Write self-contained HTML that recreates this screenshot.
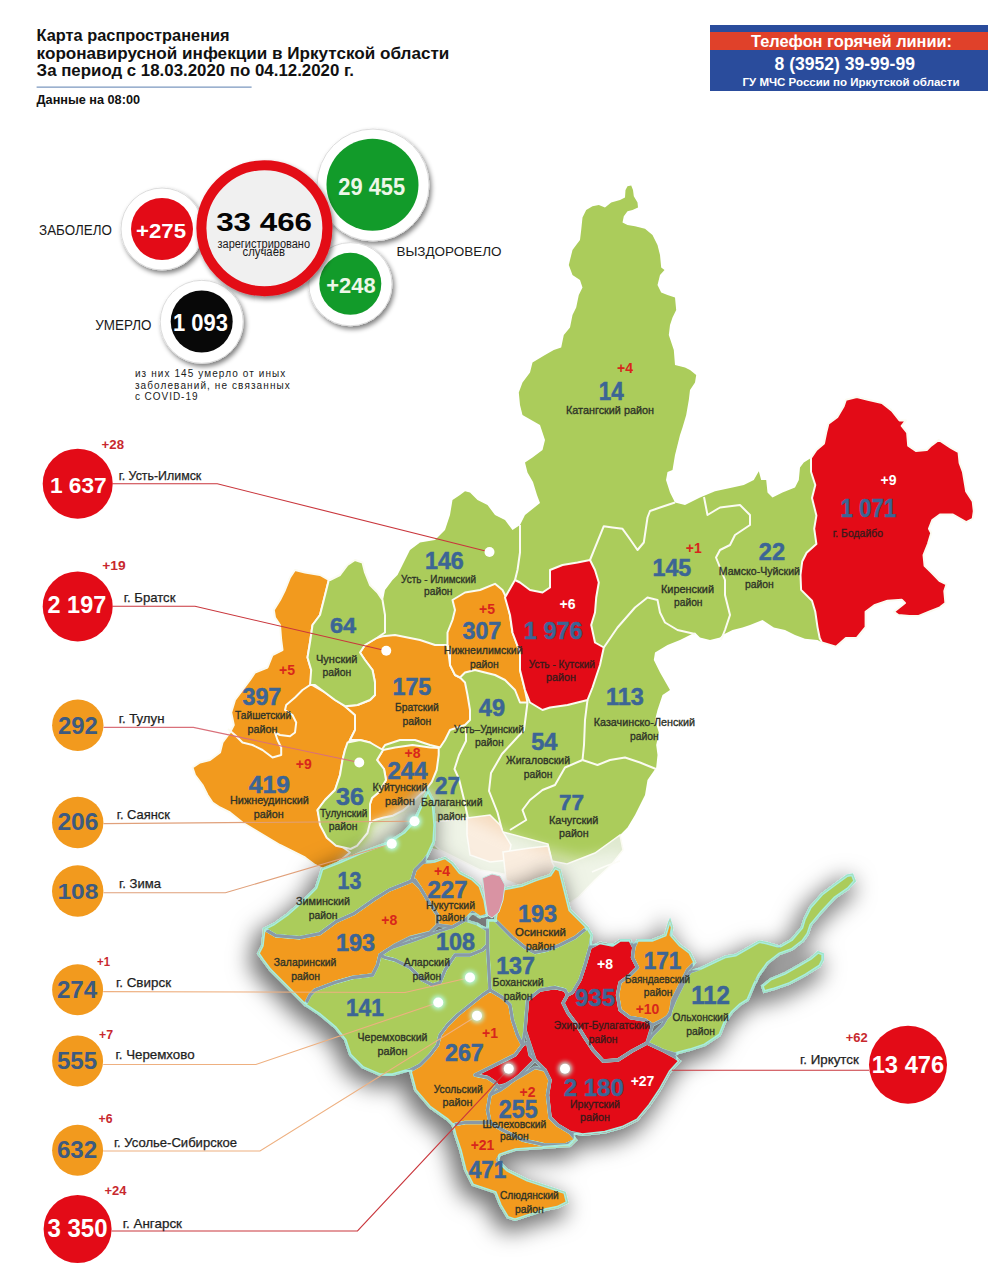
<!DOCTYPE html><html><head><meta charset="utf-8"><style>
html,body{margin:0;padding:0;background:#fff;width:1004px;height:1280px;overflow:hidden}
svg{display:block;font-family:"Liberation Sans",sans-serif}
</style></head><body>
<svg width="1004" height="1280" viewBox="0 0 1004 1280">
<defs>
<filter id="sh" x="-20%" y="-20%" width="140%" height="140%"><feMorphology in="SourceAlpha" operator="dilate" radius="2" result="d"/><feGaussianBlur in="d" stdDeviation="7" result="b"/><feOffset in="b" dx="2" dy="-5" result="gb"/><feFlood flood-color="#fff" flood-opacity="0.9"/><feComposite in2="gb" operator="in" result="glow"/><feMorphology in="SourceAlpha" operator="dilate" radius="3" result="d2"/><feGaussianBlur in="d2" stdDeviation="11" result="b2"/><feOffset in="b2" dx="-5" dy="8" result="ob"/><feFlood flood-color="#000" flood-opacity="0.55"/><feComposite in2="ob" operator="in" result="shadow"/><feMerge><feMergeNode in="shadow"/><feMergeNode in="SourceGraphic"/></feMerge></filter>
<filter id="csh" x="-30%" y="-30%" width="160%" height="160%"><feGaussianBlur in="SourceAlpha" stdDeviation="2.5"/><feOffset dx="1.5" dy="2.5"/><feComponentTransfer><feFuncA type="linear" slope="0.5"/></feComponentTransfer><feMerge><feMergeNode/><feMergeNode in="SourceGraphic"/></feMerge></filter>
<filter id="blur12"><feGaussianBlur stdDeviation="12"/></filter><filter id="blur5" x="-30%" y="-50%" width="160%" height="200%"><feGaussianBlur stdDeviation="5"/></filter><filter id="blur6" x="-20%" y="-50%" width="140%" height="200%"><feGaussianBlur stdDeviation="7"/></filter>
<filter id="er" x="0" y="0" width="1004" height="1280" filterUnits="userSpaceOnUse"><feMorphology operator="dilate" radius="3"/><feMorphology operator="erode" radius="5.2"/></filter><filter id="cl" x="0" y="0" width="1004" height="1280" filterUnits="userSpaceOnUse"><feMorphology operator="dilate" radius="3"/><feMorphology operator="erode" radius="3"/></filter>
<filter id="glow" x="-100%" y="-100%" width="300%" height="300%"><feGaussianBlur stdDeviation="2"/></filter>

<mask id="mIn" maskUnits="userSpaceOnUse" x="0" y="0" width="1004" height="1280"><g fill="#fff" filter="url(#cl)"><polygon points="264.0,928.7 273.9,923.7 287.8,913.8 303.8,899.8 315.7,887.9 319.7,875.9 321.7,869.0 339.6,862.0 360.0,853.0 387.0,843.0 404.0,832.0 414.0,821.0 420.0,808.0 425.0,796.0 428.0,790.0 433.0,800.0 435.0,825.0 434.0,842.0 428.0,855.0 422.5,862.5 415.0,870.0 412.0,880.0 409.4,881.9 389.4,889.9 373.5,899.8 353.6,913.8 335.7,921.8 319.7,933.7 299.8,937.7 275.9,935.7 264.0,928.7"/><polygon points="258.0,953.6 262.0,945.7 264.0,928.7 275.9,935.7 299.8,937.7 319.7,933.7 335.7,921.8 353.6,913.8 373.5,899.8 389.4,889.9 409.4,881.9 415.0,880.0 420.0,887.5 427.5,900.0 432.5,907.5 437.5,915.0 437.5,925.0 430.0,932.5 410.0,937.5 395.0,945.0 387.5,950.0 380.0,955.0 377.5,965.0 372.5,975.0 352.5,977.5 335.0,982.5 315.0,990.0 310.0,995.0 305.0,1005.0 300.0,1000.0 290.0,990.0 280.0,980.0 270.0,970.0 262.5,960.0"/><polygon points="412.0,880.0 415.0,870.0 422.5,862.5 435.0,861.0 445.0,857.5 452.5,863.0 460.0,872.5 472.5,879.0 480.0,886.0 485.0,900.0 487.5,915.0 480.0,917.5 472.5,912.5 465.0,920.0 452.5,927.0 437.5,925.0 437.5,915.0 432.5,907.5 427.5,900.0 420.0,887.5"/><polygon points="392.5,947.5 415.0,940.0 435.0,932.5 452.5,927.0 465.0,920.0 477.5,924.0 487.5,930.0 487.5,945.0 482.5,950.0 470.0,955.0 455.0,955.0 445.0,970.0 440.0,982.5 432.5,985.0 422.5,980.0 410.0,967.5 395.0,960.0 385.0,957.5 380.0,955.0 387.5,950.0"/><polygon points="305.0,1005.0 310.0,995.0 315.0,990.0 335.0,982.5 352.5,977.5 372.5,975.0 377.5,965.0 380.0,955.0 385.0,957.5 395.0,960.0 410.0,967.5 422.5,980.0 432.5,985.0 440.0,982.5 445.0,970.0 455.0,955.0 470.0,955.0 482.5,950.0 487.5,945.0 490.0,990.0 482.5,995.0 470.0,1005.0 457.5,1015.0 447.5,1025.0 440.0,1035.0 437.5,1045.0 430.0,1055.0 420.0,1065.0 410.0,1070.0 392.5,1075.0 380.0,1075.0 362.5,1067.5 350.0,1055.0 345.0,1040.0 335.0,1027.5 320.0,1015.0"/><polygon points="410.0,1071.0 420.0,1065.0 430.0,1055.0 437.5,1045.0 440.0,1035.0 447.5,1025.0 457.5,1015.0 470.0,1005.0 482.5,995.0 490.0,990.0 502.5,997.5 510.0,1005.0 512.5,1020.0 517.5,1035.0 522.5,1045.0 515.0,1055.0 500.0,1062.5 485.0,1070.0 475.0,1075.0 487.5,1077.5 495.0,1082.5 500.0,1090.0 490.0,1095.0 487.5,1110.0 490.0,1122.5 465.0,1122.5 452.5,1125.0 447.5,1120.0 430.0,1107.5 415.0,1090.0"/><polygon points="475.0,1075.0 485.0,1070.0 500.0,1062.5 515.0,1055.0 522.5,1045.0 527.5,1042.5 530.0,1055.0 535.0,1060.0 520.0,1075.0 507.5,1085.0 500.0,1090.0 495.0,1082.5 487.5,1077.5"/><polygon points="490.0,1095.0 495.0,1087.5 505.0,1085.0 522.5,1075.0 535.0,1067.5 545.0,1070.0 550.0,1080.0 547.5,1095.0 550.0,1117.5 557.5,1125.0 570.0,1132.5 576.2,1140.0 565.0,1145.0 545.0,1145.0 522.5,1140.0 502.5,1130.0 490.0,1122.5 487.5,1110.0"/><polygon points="452.5,1125.0 465.0,1122.5 490.0,1122.5 502.5,1130.0 522.5,1140.0 545.0,1145.0 565.0,1145.0 576.2,1140.0 570.0,1146.0 550.0,1147.5 515.0,1150.0 500.0,1155.0 497.5,1160.0 507.5,1170.0 527.5,1180.0 550.0,1187.5 565.0,1192.5 567.5,1202.5 557.5,1207.5 545.0,1210.0 530.0,1215.0 515.0,1220.0 507.5,1217.5 500.0,1205.0 495.0,1192.5 472.5,1185.0 465.0,1170.0 460.0,1150.0 455.0,1135.0"/><polygon points="527.5,1000.0 540.0,990.0 555.0,987.5 565.0,990.0 567.5,995.0 563.0,1003.0 568.0,1013.0 577.0,1025.0 585.0,1038.0 593.0,1050.0 603.0,1061.0 618.0,1060.0 632.0,1051.0 647.0,1043.0 662.0,1050.0 675.0,1057.0 680.0,1061.0 670.0,1072.0 660.0,1090.0 650.0,1105.0 637.5,1120.0 622.5,1127.5 605.0,1132.5 582.5,1135.0 570.0,1132.5 557.5,1125.0 550.0,1117.5 547.5,1095.0 550.0,1080.0 545.0,1070.0 535.0,1060.0 530.0,1045.0 525.0,1030.0 526.2,1015.0"/><polygon points="590.0,947.5 600.0,942.5 612.5,945.0 620.0,940.0 630.0,940.0 633.8,947.5 632.5,957.5 637.5,967.5 630.0,975.0 620.0,982.5 617.5,995.0 620.0,1010.0 630.0,1017.5 645.0,1020.0 652.5,1025.0 647.0,1043.0 632.0,1051.0 618.0,1060.0 603.0,1061.0 593.0,1050.0 585.0,1038.0 577.0,1025.0 568.0,1013.0 563.0,1003.0 567.5,995.0 572.5,992.5 580.0,980.0 585.0,965.0"/><polygon points="633.8,947.5 637.5,940.0 652.5,940.0 665.0,935.0 668.8,922.5 670.0,920.0 672.5,927.5 671.2,935.0 680.0,945.0 690.0,952.5 695.0,962.5 687.5,970.0 680.0,985.0 672.5,1000.0 670.0,1015.0 662.5,1020.0 652.5,1025.0 645.0,1020.0 630.0,1017.5 620.0,1010.0 617.5,995.0 620.0,982.5 630.0,975.0 637.5,967.5 632.5,957.5"/><polygon points="647.0,1043.0 652.5,1035.0 662.5,1025.0 670.0,1012.5 675.0,1000.0 682.5,985.0 690.0,972.0 700.0,968.4 725.4,956.5 735.6,954.8 759.3,941.3 767.7,943.0 779.6,946.4 791.4,939.6 801.6,927.7 804.1,919.3 810.0,907.4 821.9,893.9 835.5,883.7 847.3,875.2 852.4,874.4 855.0,881.0 848.0,889.0 835.0,898.0 821.0,913.0 811.0,925.0 808.0,934.0 803.0,941.0 792.0,949.5 779.6,954.0 767.7,963.3 759.3,975.1 754.2,985.3 748.0,1000.0 740.0,1005.0 732.5,1012.0 725.0,1022.5 720.0,1035.0 705.0,1045.0 690.0,1050.0 675.0,1054.0 662.0,1050.0"/><polygon points="762.0,986.0 770.5,979.0 784.0,973.5 799.0,965.0 811.0,958.0 818.0,952.0 823.0,954.0 823.0,960.0 820.0,966.0 806.0,975.0 790.0,983.5 773.0,989.5 764.0,992.0"/><polygon points="487.5,920.0 495.0,920.0 502.5,927.5 512.5,937.5 525.0,947.5 535.0,952.5 547.5,950.0 560.0,945.0 575.0,937.5 587.5,927.5 592.0,935.0 590.0,947.5 585.0,965.0 580.0,980.0 572.5,992.5 567.5,995.0 565.0,990.0 555.0,987.5 540.0,990.0 527.5,1000.0 526.2,1015.0 525.0,1030.0 522.5,1045.0 517.5,1035.0 512.5,1020.0 510.0,1005.0 502.5,997.5 490.0,990.0 487.5,945.0 487.5,930.0"/><polygon points="497.5,890.0 522.5,885.0 535.0,880.0 550.0,875.0 555.0,867.5 560.0,870.0 565.0,890.0 570.0,910.0 580.0,920.0 587.5,927.5 575.0,937.5 560.0,945.0 547.5,950.0 535.0,952.5 525.0,947.5 512.5,937.5 502.5,927.5 495.0,920.0 497.5,905.0"/></g></mask>
<mask id="mEr" maskUnits="userSpaceOnUse" x="0" y="0" width="1004" height="1280"><g fill="#fff" filter="url(#er)"><polygon points="264.0,928.7 273.9,923.7 287.8,913.8 303.8,899.8 315.7,887.9 319.7,875.9 321.7,869.0 339.6,862.0 360.0,853.0 387.0,843.0 404.0,832.0 414.0,821.0 420.0,808.0 425.0,796.0 428.0,790.0 433.0,800.0 435.0,825.0 434.0,842.0 428.0,855.0 422.5,862.5 415.0,870.0 412.0,880.0 409.4,881.9 389.4,889.9 373.5,899.8 353.6,913.8 335.7,921.8 319.7,933.7 299.8,937.7 275.9,935.7 264.0,928.7"/><polygon points="258.0,953.6 262.0,945.7 264.0,928.7 275.9,935.7 299.8,937.7 319.7,933.7 335.7,921.8 353.6,913.8 373.5,899.8 389.4,889.9 409.4,881.9 415.0,880.0 420.0,887.5 427.5,900.0 432.5,907.5 437.5,915.0 437.5,925.0 430.0,932.5 410.0,937.5 395.0,945.0 387.5,950.0 380.0,955.0 377.5,965.0 372.5,975.0 352.5,977.5 335.0,982.5 315.0,990.0 310.0,995.0 305.0,1005.0 300.0,1000.0 290.0,990.0 280.0,980.0 270.0,970.0 262.5,960.0"/><polygon points="412.0,880.0 415.0,870.0 422.5,862.5 435.0,861.0 445.0,857.5 452.5,863.0 460.0,872.5 472.5,879.0 480.0,886.0 485.0,900.0 487.5,915.0 480.0,917.5 472.5,912.5 465.0,920.0 452.5,927.0 437.5,925.0 437.5,915.0 432.5,907.5 427.5,900.0 420.0,887.5"/><polygon points="392.5,947.5 415.0,940.0 435.0,932.5 452.5,927.0 465.0,920.0 477.5,924.0 487.5,930.0 487.5,945.0 482.5,950.0 470.0,955.0 455.0,955.0 445.0,970.0 440.0,982.5 432.5,985.0 422.5,980.0 410.0,967.5 395.0,960.0 385.0,957.5 380.0,955.0 387.5,950.0"/><polygon points="305.0,1005.0 310.0,995.0 315.0,990.0 335.0,982.5 352.5,977.5 372.5,975.0 377.5,965.0 380.0,955.0 385.0,957.5 395.0,960.0 410.0,967.5 422.5,980.0 432.5,985.0 440.0,982.5 445.0,970.0 455.0,955.0 470.0,955.0 482.5,950.0 487.5,945.0 490.0,990.0 482.5,995.0 470.0,1005.0 457.5,1015.0 447.5,1025.0 440.0,1035.0 437.5,1045.0 430.0,1055.0 420.0,1065.0 410.0,1070.0 392.5,1075.0 380.0,1075.0 362.5,1067.5 350.0,1055.0 345.0,1040.0 335.0,1027.5 320.0,1015.0"/><polygon points="410.0,1071.0 420.0,1065.0 430.0,1055.0 437.5,1045.0 440.0,1035.0 447.5,1025.0 457.5,1015.0 470.0,1005.0 482.5,995.0 490.0,990.0 502.5,997.5 510.0,1005.0 512.5,1020.0 517.5,1035.0 522.5,1045.0 515.0,1055.0 500.0,1062.5 485.0,1070.0 475.0,1075.0 487.5,1077.5 495.0,1082.5 500.0,1090.0 490.0,1095.0 487.5,1110.0 490.0,1122.5 465.0,1122.5 452.5,1125.0 447.5,1120.0 430.0,1107.5 415.0,1090.0"/><polygon points="475.0,1075.0 485.0,1070.0 500.0,1062.5 515.0,1055.0 522.5,1045.0 527.5,1042.5 530.0,1055.0 535.0,1060.0 520.0,1075.0 507.5,1085.0 500.0,1090.0 495.0,1082.5 487.5,1077.5"/><polygon points="490.0,1095.0 495.0,1087.5 505.0,1085.0 522.5,1075.0 535.0,1067.5 545.0,1070.0 550.0,1080.0 547.5,1095.0 550.0,1117.5 557.5,1125.0 570.0,1132.5 576.2,1140.0 565.0,1145.0 545.0,1145.0 522.5,1140.0 502.5,1130.0 490.0,1122.5 487.5,1110.0"/><polygon points="452.5,1125.0 465.0,1122.5 490.0,1122.5 502.5,1130.0 522.5,1140.0 545.0,1145.0 565.0,1145.0 576.2,1140.0 570.0,1146.0 550.0,1147.5 515.0,1150.0 500.0,1155.0 497.5,1160.0 507.5,1170.0 527.5,1180.0 550.0,1187.5 565.0,1192.5 567.5,1202.5 557.5,1207.5 545.0,1210.0 530.0,1215.0 515.0,1220.0 507.5,1217.5 500.0,1205.0 495.0,1192.5 472.5,1185.0 465.0,1170.0 460.0,1150.0 455.0,1135.0"/><polygon points="527.5,1000.0 540.0,990.0 555.0,987.5 565.0,990.0 567.5,995.0 563.0,1003.0 568.0,1013.0 577.0,1025.0 585.0,1038.0 593.0,1050.0 603.0,1061.0 618.0,1060.0 632.0,1051.0 647.0,1043.0 662.0,1050.0 675.0,1057.0 680.0,1061.0 670.0,1072.0 660.0,1090.0 650.0,1105.0 637.5,1120.0 622.5,1127.5 605.0,1132.5 582.5,1135.0 570.0,1132.5 557.5,1125.0 550.0,1117.5 547.5,1095.0 550.0,1080.0 545.0,1070.0 535.0,1060.0 530.0,1045.0 525.0,1030.0 526.2,1015.0"/><polygon points="590.0,947.5 600.0,942.5 612.5,945.0 620.0,940.0 630.0,940.0 633.8,947.5 632.5,957.5 637.5,967.5 630.0,975.0 620.0,982.5 617.5,995.0 620.0,1010.0 630.0,1017.5 645.0,1020.0 652.5,1025.0 647.0,1043.0 632.0,1051.0 618.0,1060.0 603.0,1061.0 593.0,1050.0 585.0,1038.0 577.0,1025.0 568.0,1013.0 563.0,1003.0 567.5,995.0 572.5,992.5 580.0,980.0 585.0,965.0"/><polygon points="633.8,947.5 637.5,940.0 652.5,940.0 665.0,935.0 668.8,922.5 670.0,920.0 672.5,927.5 671.2,935.0 680.0,945.0 690.0,952.5 695.0,962.5 687.5,970.0 680.0,985.0 672.5,1000.0 670.0,1015.0 662.5,1020.0 652.5,1025.0 645.0,1020.0 630.0,1017.5 620.0,1010.0 617.5,995.0 620.0,982.5 630.0,975.0 637.5,967.5 632.5,957.5"/><polygon points="647.0,1043.0 652.5,1035.0 662.5,1025.0 670.0,1012.5 675.0,1000.0 682.5,985.0 690.0,972.0 700.0,968.4 725.4,956.5 735.6,954.8 759.3,941.3 767.7,943.0 779.6,946.4 791.4,939.6 801.6,927.7 804.1,919.3 810.0,907.4 821.9,893.9 835.5,883.7 847.3,875.2 852.4,874.4 855.0,881.0 848.0,889.0 835.0,898.0 821.0,913.0 811.0,925.0 808.0,934.0 803.0,941.0 792.0,949.5 779.6,954.0 767.7,963.3 759.3,975.1 754.2,985.3 748.0,1000.0 740.0,1005.0 732.5,1012.0 725.0,1022.5 720.0,1035.0 705.0,1045.0 690.0,1050.0 675.0,1054.0 662.0,1050.0"/><polygon points="762.0,986.0 770.5,979.0 784.0,973.5 799.0,965.0 811.0,958.0 818.0,952.0 823.0,954.0 823.0,960.0 820.0,966.0 806.0,975.0 790.0,983.5 773.0,989.5 764.0,992.0"/><polygon points="487.5,920.0 495.0,920.0 502.5,927.5 512.5,937.5 525.0,947.5 535.0,952.5 547.5,950.0 560.0,945.0 575.0,937.5 587.5,927.5 592.0,935.0 590.0,947.5 585.0,965.0 580.0,980.0 572.5,992.5 567.5,995.0 565.0,990.0 555.0,987.5 540.0,990.0 527.5,1000.0 526.2,1015.0 525.0,1030.0 522.5,1045.0 517.5,1035.0 512.5,1020.0 510.0,1005.0 502.5,997.5 490.0,990.0 487.5,945.0 487.5,930.0"/><polygon points="497.5,890.0 522.5,885.0 535.0,880.0 550.0,875.0 555.0,867.5 560.0,870.0 565.0,890.0 570.0,910.0 580.0,920.0 587.5,927.5 575.0,937.5 560.0,945.0 547.5,950.0 535.0,952.5 525.0,947.5 512.5,937.5 502.5,927.5 495.0,920.0 497.5,905.0"/></g></mask>
</defs>
<g font-weight="bold" fill="#111">
<text x="36.6" y="41.4" font-size="17.2" textLength="193" lengthAdjust="spacingAndGlyphs">Карта распространения</text>
<text x="36.6" y="58.6" font-size="17.2" textLength="412.8" lengthAdjust="spacingAndGlyphs">коронавирусной инфекции в Иркутской области</text>
<text x="36.6" y="75.9" font-size="17.2" textLength="317.4" lengthAdjust="spacingAndGlyphs">За период с 18.03.2020 по 04.12.2020 г.</text>
<text x="36.6" y="104" font-size="12.4" textLength="103.4" lengthAdjust="spacingAndGlyphs">Данные на 08:00</text>
</g>
<rect x="36.6" y="86.6" width="215" height="1" fill="#5b7fb0"/>
<rect x="710" y="25" width="278" height="66" fill="#2a4c9c"/>
<rect x="710" y="32" width="278" height="18" fill="#e0412a"/>
<g font-weight="bold" fill="#fff">
<text x="751" y="47" font-size="16" textLength="201" lengthAdjust="spacingAndGlyphs">Телефон горячей линии:</text>
<text x="774.5" y="69.5" font-size="18" textLength="140.5" lengthAdjust="spacingAndGlyphs">8 (3952) 39-99-99</text>
<text x="742.5" y="86" font-size="11" textLength="217" lengthAdjust="spacingAndGlyphs">ГУ МЧС России по Иркутской области</text>
</g>
<circle cx="373" cy="185" r="56" fill="#fff" stroke="#dcdcdc" stroke-width="1" filter="url(#csh)"/>
<circle cx="372.5" cy="184.7" r="46" fill="#129b2a"/>
<circle cx="162" cy="229" r="41" fill="#fff" stroke="#dcdcdc" stroke-width="1" filter="url(#csh)"/>
<circle cx="162" cy="229" r="31" fill="#e30b17"/>
<circle cx="350.4" cy="284.2" r="41.6" fill="#fff" stroke="#dcdcdc" stroke-width="1" filter="url(#csh)"/>
<circle cx="350.3" cy="283.8" r="31" fill="#129b2a"/>
<circle cx="201.7" cy="321.8" r="41.5" fill="#fff" stroke="#dcdcdc" stroke-width="1" filter="url(#csh)"/>
<circle cx="201.7" cy="321.5" r="31" fill="#080808"/>
<circle cx="264.4" cy="228.2" r="63" fill="#f0f0f0" stroke="#e30b17" stroke-width="10" filter="url(#csh)"/>
<g font-weight="bold" fill="#fff">
<text x="338.3" y="194.5" font-size="23" textLength="66.9" lengthAdjust="spacingAndGlyphs" fill="#eef7e8">29 455</text>
<text x="136" y="237.5" font-size="21" textLength="50" lengthAdjust="spacingAndGlyphs">+275</text>
<text x="326.3" y="293.1" font-size="22.5" textLength="49.3" lengthAdjust="spacingAndGlyphs" fill="#eef7e8">+248</text>
<text x="173" y="331" font-size="23" textLength="55" lengthAdjust="spacingAndGlyphs">1 093</text>
<text x="216.2" y="230.6" font-size="26.5" textLength="95.8" lengthAdjust="spacingAndGlyphs" fill="#050505">33 466</text>
</g>
<g fill="#1a1a1a">
<text x="217.5" y="247.5" font-size="12" textLength="92.5" lengthAdjust="spacingAndGlyphs">зарегистрировано</text>
<text x="242.5" y="256" font-size="12" textLength="42.5" lengthAdjust="spacingAndGlyphs">случаев</text>
<text x="39.1" y="235.4" font-size="14.5" textLength="72.9" lengthAdjust="spacingAndGlyphs">ЗАБОЛЕЛО</text>
<text x="95.3" y="329.8" font-size="14.5" textLength="56.2" lengthAdjust="spacingAndGlyphs">УМЕРЛО</text>
<text x="396.4" y="255.9" font-size="12.5" textLength="105.2" lengthAdjust="spacingAndGlyphs">ВЫЗДОРОВЕЛО</text>
<text x="134.9" y="377.4" font-size="10" letter-spacing="1" textLength="151.4" lengthAdjust="spacing">из них 145 умерло от иных</text>
<text x="134.9" y="388.7" font-size="10" letter-spacing="1" textLength="155.9" lengthAdjust="spacing">заболеваний, не связанных</text>
<text x="134.9" y="399.8" font-size="10" letter-spacing="1" textLength="63.6" lengthAdjust="spacing">с COVID-19</text>
</g>
<polygon points="627.5,186.2 631.2,185.5 633.0,190.0 633.8,196.2 637.5,202.5 638.0,207.5 632.5,210.0 627.5,211.2 623.8,216.2 622.5,222.5 627.5,225.0 635.0,226.2 645.0,228.8 652.5,235.0 657.5,245.0 660.0,255.0 661.2,267.5 664.5,270.0 660.0,275.0 657.5,285.0 661.2,292.5 667.5,295.0 675.0,297.5 676.2,310.0 672.5,317.5 670.0,325.0 668.8,335.0 673.8,350.0 675.0,365.0 685.0,367.5 690.0,370.0 696.2,375.0 695.0,382.5 690.0,390.0 688.8,400.0 686.2,415.0 682.5,427.5 680.0,435.0 677.5,445.0 675.0,455.0 672.5,470.0 667.5,472.0 666.0,480.0 670.0,492.5 675.0,502.5 685.0,505.0 700.0,497.5 715.0,491.2 732.5,487.5 743.8,485.0 753.8,480.0 758.8,471.2 761.2,480.0 766.2,480.0 767.5,492.5 772.5,497.5 782.5,492.5 795.0,487.5 798.8,480.0 800.0,467.5 803.8,462.5 811.0,458.0 816.4,450.0 824.0,443.4 826.2,432.5 828.4,423.7 837.2,417.2 843.7,406.2 845.9,399.7 856.8,397.0 867.8,399.7 882.0,403.0 891.8,410.6 899.5,420.4 906.0,420.4 901.7,425.9 907.1,432.5 908.2,445.6 915.9,451.0 926.8,450.0 931.2,445.6 938.8,440.0 950.9,447.8 958.5,452.0 959.6,463.0 962.9,471.8 966.2,491.5 972.7,501.4 973.8,511.2 972.7,518.8 966.2,522.1 953.0,514.5 939.9,514.5 932.3,520.0 929.0,528.7 931.2,533.0 927.9,544.0 923.5,555.0 924.6,565.9 931.2,572.4 939.9,581.2 946.5,584.4 944.3,591.0 945.4,603.0 939.9,607.4 929.0,611.8 918.1,616.1 909.3,616.1 898.4,615.0 894.0,611.8 905.0,603.0 901.7,599.7 887.5,600.8 874.3,605.2 865.6,611.8 865.6,627.1 856.8,638.0 845.9,638.0 836.0,646.8 821.9,642.4 817.5,640.0 805.0,638.8 795.0,635.0 785.0,630.0 773.8,627.5 762.5,620.0 750.0,625.0 742.5,627.5 732.5,630.0 722.5,635.0 720.0,637.5 710.0,640.0 700.0,637.5 695.0,632.5 680.0,640.0 667.5,645.0 655.0,652.5 653.8,660.0 660.0,672.5 670.0,690.0 662.5,695.0 657.5,710.0 655.0,720.0 658.8,732.5 656.2,745.0 657.5,755.0 656.2,767.5 647.5,780.0 645.0,795.0 635.0,815.0 627.5,827.5 620.0,835.0 623.0,850.0 612.0,864.0 595.0,880.0 578.5,897.0 567.0,905.0 540.0,880.0 480.0,870.0 440.0,850.0 400.0,840.0 335.0,868.0 325.0,870.0 315.0,865.0 305.0,857.5 290.0,850.0 280.0,845.0 267.5,837.5 255.0,830.0 242.5,822.5 230.0,812.5 220.0,807.5 212.5,802.5 207.5,795.0 202.5,785.0 195.0,775.0 192.5,767.5 200.0,762.5 210.0,760.0 220.0,752.5 222.5,742.5 230.0,732.5 233.8,725.0 231.2,712.5 235.0,700.0 242.5,690.0 250.0,680.0 255.0,672.5 267.5,667.5 272.5,655.0 282.5,650.0 281.2,640.0 280.0,625.0 275.0,617.5 273.8,610.0 280.0,600.0 285.0,590.0 290.0,577.5 295.0,570.0 305.0,572.5 320.0,575.0 328.8,580.0 340.0,575.0 347.5,565.0 355.0,560.0 362.5,562.5 365.0,572.5 370.0,585.0 377.5,592.5 382.5,603.0 385.0,590.0 392.5,580.0 397.5,575.0 402.5,565.0 410.0,550.0 420.0,542.5 435.0,540.0 445.0,530.0 450.0,515.0 452.5,500.0 460.0,495.0 465.0,491.2 470.0,492.5 477.5,500.0 487.5,505.0 495.0,515.0 505.0,520.0 512.5,530.0 520.0,525.0 525.0,515.0 540.0,503.0 537.0,495.0 533.0,482.0 527.5,472.5 525.0,462.5 532.5,457.5 542.5,450.0 545.0,440.0 540.0,425.0 522.5,415.0 520.0,405.0 518.8,392.5 522.5,382.5 530.0,372.5 532.5,362.5 545.0,355.0 553.8,350.0 561.2,347.5 563.8,335.0 570.0,327.5 572.5,315.0 576.2,307.5 578.8,295.0 582.5,287.5 580.0,280.0 572.5,275.0 568.8,265.0 570.0,260.0 572.5,250.0 576.2,245.0 580.0,240.0 581.2,230.0 582.5,217.5 586.2,210.0 592.5,206.2 598.8,205.0 605.0,207.5 611.2,202.5 620.0,200.0 625.0,197.5 625.5,190.0" fill="#abcc5b"/>
<polygon points="295.0,570.0 305.0,572.5 320.0,575.0 328.8,580.0 323.8,600.0 320.0,615.0 312.5,625.0 310.0,642.5 307.5,657.5 311.2,670.0 312.0,685.0 325.0,692.5 335.0,700.0 345.0,706.2 355.0,715.0 355.0,730.0 350.0,740.0 345.0,750.0 342.5,760.0 340.0,775.0 335.0,790.0 325.0,800.0 317.5,810.0 320.0,820.0 330.0,832.5 340.0,845.0 350.0,852.5 335.0,865.0 325.0,870.0 315.0,865.0 305.0,857.5 290.0,850.0 280.0,845.0 267.5,837.5 255.0,830.0 242.5,822.5 230.0,812.5 220.0,807.5 212.5,802.5 207.5,795.0 202.5,785.0 195.0,775.0 192.5,767.5 200.0,762.5 210.0,760.0 220.0,752.5 222.5,742.5 230.0,732.5 233.8,725.0 231.2,712.5 235.0,700.0 242.5,690.0 250.0,680.0 255.0,672.5 267.5,667.5 272.5,655.0 282.5,650.0 281.2,640.0 280.0,625.0 275.0,617.5 273.8,610.0 280.0,600.0 285.0,590.0 290.0,577.5" fill="#f29a1e" stroke="#fbfbf2" stroke-width="2" stroke-linejoin="round"/>
<polygon points="370.0,640.0 382.5,636.2 395.0,635.0 407.5,637.5 420.0,640.0 435.0,645.0 447.5,645.0 450.0,665.0 455.0,675.0 460.0,677.5 465.0,682.5 467.5,695.0 470.0,710.0 470.0,720.0 465.0,725.0 450.0,730.0 445.0,740.0 440.0,747.5 430.0,745.0 415.0,740.0 400.0,740.0 385.0,745.0 380.0,752.5 370.0,742.5 360.0,740.0 350.0,740.0 355.0,730.0 355.0,715.0 345.0,706.2 357.5,705.0 370.0,700.0 375.0,695.0 375.0,682.5 372.5,670.0 365.0,660.0 360.0,652.5 365.0,645.0 377.5,637.5" fill="#f29a1e" stroke="#fbfbf2" stroke-width="2" stroke-linejoin="round"/>
<polygon points="383.0,750.0 395.0,747.5 412.5,745.0 430.0,747.5 438.7,748.0 438.7,755.0 436.7,770.0 431.8,781.8 425.8,789.8 417.8,796.8 409.8,804.7 402.9,810.7 392.9,815.7 382.9,817.7 376.0,819.7 370.0,822.7 370.0,804.0 372.0,798.0 379.0,792.0 386.0,780.0 384.0,769.0 377.0,760.0" fill="#f29a1e" stroke="#fbfbf2" stroke-width="2" stroke-linejoin="round"/>
<polygon points="452.5,600.0 465.0,592.5 480.0,590.0 495.0,583.8 502.5,590.0 506.2,597.5 510.0,615.0 512.5,632.5 520.0,652.5 520.0,670.0 525.0,690.0 527.5,702.5 520.0,702.5 515.0,690.0 505.0,680.0 495.0,675.0 485.0,672.5 475.0,670.0 465.0,672.5 460.0,677.5 455.0,675.0 450.0,665.0 450.0,650.0 447.5,645.0 447.5,632.5 452.5,620.0 455.0,610.0" fill="#f29a1e" stroke="#fbfbf2" stroke-width="2" stroke-linejoin="round"/>
<polygon points="515.0,580.0 520.0,582.5 530.0,590.0 542.5,592.5 550.0,587.5 550.0,570.0 562.5,565.0 577.5,562.5 590.0,560.0 595.0,570.0 598.8,582.5 596.2,597.5 595.0,612.5 591.2,625.0 595.0,642.5 603.8,647.5 600.0,665.0 592.5,687.5 587.5,700.0 567.5,705.0 550.0,707.5 542.5,710.0 530.0,702.5 525.0,690.0 520.0,670.0 520.0,652.5 512.5,632.5 510.0,615.0 505.0,597.5" fill="#e30b17" stroke="#fbfbf2" stroke-width="2" stroke-linejoin="round"/>
<polygon points="330.0,580.0 340.0,575.0 347.5,565.0 355.0,560.0 362.5,562.5 365.0,572.5 370.0,585.0 377.5,592.5 382.5,600.0 385.0,615.0 385.0,632.5 377.5,637.5 365.0,645.0 360.0,652.5 365.0,660.0 372.5,670.0 375.0,682.5 375.0,695.0 370.0,700.0 357.5,705.0 345.0,706.2 335.0,700.0 325.0,692.5 315.0,685.0 310.0,685.0 311.2,670.0 307.5,657.5 310.0,642.5 312.5,625.0 320.0,615.0 323.8,600.0 328.8,580.0" fill="#abcc5b" stroke="#fbfbf2" stroke-width="2" stroke-linejoin="round"/>
<polygon points="347.5,742.5 360.0,740.0 370.0,742.5 383.0,750.0 377.0,760.0 384.0,769.0 386.0,780.0 379.0,792.0 372.0,798.0 370.0,804.0 370.0,822.7 367.5,833.0 357.0,845.8 350.6,849.0 336.0,845.8 326.7,837.8 320.0,825.0 317.5,810.0 325.0,800.0 335.0,790.0 340.0,775.0 342.5,760.0 345.0,750.0" fill="#abcc5b" stroke="#fbfbf2" stroke-width="2" stroke-linejoin="round"/>
<polygon points="811.0,458.0 816.4,450.0 824.0,443.4 826.2,432.5 828.4,423.7 837.2,417.2 843.7,406.2 845.9,399.7 856.8,397.0 867.8,399.7 882.0,403.0 891.8,410.6 899.5,420.4 906.0,420.4 901.7,425.9 907.1,432.5 908.2,445.6 915.9,451.0 926.8,450.0 931.2,445.6 938.8,440.0 950.9,447.8 958.5,452.0 959.6,463.0 962.9,471.8 966.2,491.5 972.7,501.4 973.8,511.2 972.7,518.8 966.2,522.1 953.0,514.5 939.9,514.5 932.3,520.0 929.0,528.7 931.2,533.0 927.9,544.0 923.5,555.0 924.6,565.9 931.2,572.4 939.9,581.2 946.5,584.4 944.3,591.0 945.4,603.0 939.9,607.4 929.0,611.8 918.1,616.1 909.3,616.1 898.4,615.0 894.0,611.8 905.0,603.0 901.7,599.7 887.5,600.8 874.3,605.2 865.6,611.8 865.6,627.1 856.8,638.0 845.9,638.0 836.0,646.8 821.9,642.4 819.7,638.0 817.5,627.1 815.3,611.8 812.0,600.8 801.1,589.9 800.5,575.0 802.2,561.5 806.6,552.7 816.4,544.0 814.2,528.7 816.4,515.6 812.0,498.0 815.3,485.0 811.0,471.8 811.0,462.0" fill="#e30b17" stroke="#fbfbf2" stroke-width="2" stroke-linejoin="round"/>
<polyline points="310.0,685.0 302.5,690.0 295.0,697.5 286.2,705.0 285.0,710.0 292.5,715.0 296.2,722.5 295.0,732.5 290.0,736.2 280.0,735.0 275.0,732.5 277.5,740.0 281.2,747.5 281.2,755.0 272.5,757.5 262.5,750.0 252.5,745.0 242.5,742.5 235.0,735.0 228.0,729.0" fill="none" stroke="#fbfbf2" stroke-width="2" stroke-linejoin="round"/>
<polyline points="520.0,525.0 520.0,552.5 517.5,570.0 515.0,580.0" fill="none" stroke="#fbfbf2" stroke-width="2" stroke-linejoin="round"/>
<polyline points="675.0,502.5 660.0,507.5 650.0,511.0 647.5,517.5 643.8,542.5 637.5,550.0 628.8,537.5 622.5,528.8 612.5,527.5 603.8,526.2 590.0,560.0" fill="none" stroke="#fbfbf2" stroke-width="2" stroke-linejoin="round"/>
<polyline points="704.0,497.0 707.5,515.0 720.0,507.5 740.0,505.0 750.0,515.0 750.0,525.0 735.0,535.0 730.0,545.0 720.0,550.0 716.0,557.5 725.0,580.0 725.0,595.0 730.0,615.0 725.0,630.0 721.0,640.0" fill="none" stroke="#fbfbf2" stroke-width="2" stroke-linejoin="round"/>
<polyline points="603.8,647.5 617.5,627.5 635.0,607.5 647.5,597.5 657.5,600.0 660.0,612.5 665.0,622.5 677.5,630.0 695.0,634.0" fill="none" stroke="#fbfbf2" stroke-width="2" stroke-linejoin="round"/>
<polyline points="527.5,702.5 524.0,730.0 502.0,754.0 491.0,773.0 489.0,791.0 497.5,812.5 502.0,830.0" fill="none" stroke="#fbfbf2" stroke-width="2" stroke-linejoin="round"/>
<polyline points="466.0,727.0 466.0,741.0 459.0,755.0 454.5,769.0 459.0,779.0 464.0,799.5 469.0,823.0 472.0,840.0" fill="none" stroke="#fbfbf2" stroke-width="2" stroke-linejoin="round"/>
<polyline points="587.5,700.0 585.0,720.0 584.0,745.0 582.5,760.0" fill="none" stroke="#fbfbf2" stroke-width="2" stroke-linejoin="round"/>
<polyline points="582.5,760.0 597.5,765.0 610.0,760.0 625.0,757.5 640.0,762.5 656.0,769.0" fill="none" stroke="#fbfbf2" stroke-width="2" stroke-linejoin="round"/>
<polyline points="582.5,760.0 565.0,767.5 555.0,785.0 542.5,790.0 530.0,800.0 522.5,810.0 526.2,820.0 510.0,830.0" fill="none" stroke="#fbfbf2" stroke-width="2" stroke-linejoin="round"/>
<polygon points="620.0,835.0 623.0,850.0 612.0,864.0 595.0,880.0 578.5,897.0 567.0,905.0 540.0,880.0 480.0,870.0 440.0,850.0 417.0,830.0 436.0,822.0 467.0,818.0 503.0,832.0 548.0,844.0 552.0,861.0 567.0,864.0 595.0,853.0" fill="#dfe9cf" stroke="#fbfbf2" stroke-width="1.5"/>
<polygon points="467.0,818.0 490.0,815.0 500.0,825.0 503.0,832.0 511.0,845.0 508.0,860.0 490.0,862.0 470.0,855.0 467.0,835.0" fill="#f6dcc0" stroke="#fbfbf2" stroke-width="1.5"/>
<polygon points="503.0,852.0 530.0,848.0 548.0,846.0 552.0,862.0 556.0,870.0 550.0,880.0 520.0,886.0 506.0,880.0" fill="#f6dcc0" stroke="#fbfbf2" stroke-width="1.5"/>
<polyline points="592,872 606,866 620,861" fill="none" stroke="#fbfbf2" stroke-width="1.5"/>
<g filter="url(#blur6)" fill="#fff" opacity="0.5"><polygon points="350,866 378,850 395,825 410,805 425,788 440,800 470,818 500,832 540,848 580,858 620,852 640,872 610,905 570,915 500,890 440,872 380,882"/></g><g filter="url(#blur5)" fill="#f2f4ee" opacity="0.85"><polygon points="330,874 345,856 357,850 368,838 372,822 385,817 405,806 425,788 436,800 424,830 402,846 380,854 350,872"/></g>
<g filter="url(#sh)"><g fill="#8796a4" stroke="#9fe6d6" stroke-width="2"><polygon points="264.0,928.7 273.9,923.7 287.8,913.8 303.8,899.8 315.7,887.9 319.7,875.9 321.7,869.0 339.6,862.0 360.0,853.0 387.0,843.0 404.0,832.0 414.0,821.0 420.0,808.0 425.0,796.0 428.0,790.0 433.0,800.0 435.0,825.0 434.0,842.0 428.0,855.0 422.5,862.5 415.0,870.0 412.0,880.0 409.4,881.9 389.4,889.9 373.5,899.8 353.6,913.8 335.7,921.8 319.7,933.7 299.8,937.7 275.9,935.7 264.0,928.7"/><polygon points="258.0,953.6 262.0,945.7 264.0,928.7 275.9,935.7 299.8,937.7 319.7,933.7 335.7,921.8 353.6,913.8 373.5,899.8 389.4,889.9 409.4,881.9 415.0,880.0 420.0,887.5 427.5,900.0 432.5,907.5 437.5,915.0 437.5,925.0 430.0,932.5 410.0,937.5 395.0,945.0 387.5,950.0 380.0,955.0 377.5,965.0 372.5,975.0 352.5,977.5 335.0,982.5 315.0,990.0 310.0,995.0 305.0,1005.0 300.0,1000.0 290.0,990.0 280.0,980.0 270.0,970.0 262.5,960.0"/><polygon points="412.0,880.0 415.0,870.0 422.5,862.5 435.0,861.0 445.0,857.5 452.5,863.0 460.0,872.5 472.5,879.0 480.0,886.0 485.0,900.0 487.5,915.0 480.0,917.5 472.5,912.5 465.0,920.0 452.5,927.0 437.5,925.0 437.5,915.0 432.5,907.5 427.5,900.0 420.0,887.5"/><polygon points="392.5,947.5 415.0,940.0 435.0,932.5 452.5,927.0 465.0,920.0 477.5,924.0 487.5,930.0 487.5,945.0 482.5,950.0 470.0,955.0 455.0,955.0 445.0,970.0 440.0,982.5 432.5,985.0 422.5,980.0 410.0,967.5 395.0,960.0 385.0,957.5 380.0,955.0 387.5,950.0"/><polygon points="305.0,1005.0 310.0,995.0 315.0,990.0 335.0,982.5 352.5,977.5 372.5,975.0 377.5,965.0 380.0,955.0 385.0,957.5 395.0,960.0 410.0,967.5 422.5,980.0 432.5,985.0 440.0,982.5 445.0,970.0 455.0,955.0 470.0,955.0 482.5,950.0 487.5,945.0 490.0,990.0 482.5,995.0 470.0,1005.0 457.5,1015.0 447.5,1025.0 440.0,1035.0 437.5,1045.0 430.0,1055.0 420.0,1065.0 410.0,1070.0 392.5,1075.0 380.0,1075.0 362.5,1067.5 350.0,1055.0 345.0,1040.0 335.0,1027.5 320.0,1015.0"/><polygon points="410.0,1071.0 420.0,1065.0 430.0,1055.0 437.5,1045.0 440.0,1035.0 447.5,1025.0 457.5,1015.0 470.0,1005.0 482.5,995.0 490.0,990.0 502.5,997.5 510.0,1005.0 512.5,1020.0 517.5,1035.0 522.5,1045.0 515.0,1055.0 500.0,1062.5 485.0,1070.0 475.0,1075.0 487.5,1077.5 495.0,1082.5 500.0,1090.0 490.0,1095.0 487.5,1110.0 490.0,1122.5 465.0,1122.5 452.5,1125.0 447.5,1120.0 430.0,1107.5 415.0,1090.0"/><polygon points="475.0,1075.0 485.0,1070.0 500.0,1062.5 515.0,1055.0 522.5,1045.0 527.5,1042.5 530.0,1055.0 535.0,1060.0 520.0,1075.0 507.5,1085.0 500.0,1090.0 495.0,1082.5 487.5,1077.5"/><polygon points="490.0,1095.0 495.0,1087.5 505.0,1085.0 522.5,1075.0 535.0,1067.5 545.0,1070.0 550.0,1080.0 547.5,1095.0 550.0,1117.5 557.5,1125.0 570.0,1132.5 576.2,1140.0 565.0,1145.0 545.0,1145.0 522.5,1140.0 502.5,1130.0 490.0,1122.5 487.5,1110.0"/><polygon points="452.5,1125.0 465.0,1122.5 490.0,1122.5 502.5,1130.0 522.5,1140.0 545.0,1145.0 565.0,1145.0 576.2,1140.0 570.0,1146.0 550.0,1147.5 515.0,1150.0 500.0,1155.0 497.5,1160.0 507.5,1170.0 527.5,1180.0 550.0,1187.5 565.0,1192.5 567.5,1202.5 557.5,1207.5 545.0,1210.0 530.0,1215.0 515.0,1220.0 507.5,1217.5 500.0,1205.0 495.0,1192.5 472.5,1185.0 465.0,1170.0 460.0,1150.0 455.0,1135.0"/><polygon points="527.5,1000.0 540.0,990.0 555.0,987.5 565.0,990.0 567.5,995.0 563.0,1003.0 568.0,1013.0 577.0,1025.0 585.0,1038.0 593.0,1050.0 603.0,1061.0 618.0,1060.0 632.0,1051.0 647.0,1043.0 662.0,1050.0 675.0,1057.0 680.0,1061.0 670.0,1072.0 660.0,1090.0 650.0,1105.0 637.5,1120.0 622.5,1127.5 605.0,1132.5 582.5,1135.0 570.0,1132.5 557.5,1125.0 550.0,1117.5 547.5,1095.0 550.0,1080.0 545.0,1070.0 535.0,1060.0 530.0,1045.0 525.0,1030.0 526.2,1015.0"/><polygon points="590.0,947.5 600.0,942.5 612.5,945.0 620.0,940.0 630.0,940.0 633.8,947.5 632.5,957.5 637.5,967.5 630.0,975.0 620.0,982.5 617.5,995.0 620.0,1010.0 630.0,1017.5 645.0,1020.0 652.5,1025.0 647.0,1043.0 632.0,1051.0 618.0,1060.0 603.0,1061.0 593.0,1050.0 585.0,1038.0 577.0,1025.0 568.0,1013.0 563.0,1003.0 567.5,995.0 572.5,992.5 580.0,980.0 585.0,965.0"/><polygon points="633.8,947.5 637.5,940.0 652.5,940.0 665.0,935.0 668.8,922.5 670.0,920.0 672.5,927.5 671.2,935.0 680.0,945.0 690.0,952.5 695.0,962.5 687.5,970.0 680.0,985.0 672.5,1000.0 670.0,1015.0 662.5,1020.0 652.5,1025.0 645.0,1020.0 630.0,1017.5 620.0,1010.0 617.5,995.0 620.0,982.5 630.0,975.0 637.5,967.5 632.5,957.5"/><polygon points="647.0,1043.0 652.5,1035.0 662.5,1025.0 670.0,1012.5 675.0,1000.0 682.5,985.0 690.0,972.0 700.0,968.4 725.4,956.5 735.6,954.8 759.3,941.3 767.7,943.0 779.6,946.4 791.4,939.6 801.6,927.7 804.1,919.3 810.0,907.4 821.9,893.9 835.5,883.7 847.3,875.2 852.4,874.4 855.0,881.0 848.0,889.0 835.0,898.0 821.0,913.0 811.0,925.0 808.0,934.0 803.0,941.0 792.0,949.5 779.6,954.0 767.7,963.3 759.3,975.1 754.2,985.3 748.0,1000.0 740.0,1005.0 732.5,1012.0 725.0,1022.5 720.0,1035.0 705.0,1045.0 690.0,1050.0 675.0,1054.0 662.0,1050.0"/><polygon points="762.0,986.0 770.5,979.0 784.0,973.5 799.0,965.0 811.0,958.0 818.0,952.0 823.0,954.0 823.0,960.0 820.0,966.0 806.0,975.0 790.0,983.5 773.0,989.5 764.0,992.0"/><polygon points="487.5,920.0 495.0,920.0 502.5,927.5 512.5,937.5 525.0,947.5 535.0,952.5 547.5,950.0 560.0,945.0 575.0,937.5 587.5,927.5 592.0,935.0 590.0,947.5 585.0,965.0 580.0,980.0 572.5,992.5 567.5,995.0 565.0,990.0 555.0,987.5 540.0,990.0 527.5,1000.0 526.2,1015.0 525.0,1030.0 522.5,1045.0 517.5,1035.0 512.5,1020.0 510.0,1005.0 502.5,997.5 490.0,990.0 487.5,945.0 487.5,930.0"/><polygon points="497.5,890.0 522.5,885.0 535.0,880.0 550.0,875.0 555.0,867.5 560.0,870.0 565.0,890.0 570.0,910.0 580.0,920.0 587.5,927.5 575.0,937.5 560.0,945.0 547.5,950.0 535.0,952.5 525.0,947.5 512.5,937.5 502.5,927.5 495.0,920.0 497.5,905.0"/></g></g>
<polygon points="264.0,928.7 273.9,923.7 287.8,913.8 303.8,899.8 315.7,887.9 319.7,875.9 321.7,869.0 339.6,862.0 360.0,853.0 387.0,843.0 404.0,832.0 414.0,821.0 420.0,808.0 425.0,796.0 428.0,790.0 433.0,800.0 435.0,825.0 434.0,842.0 428.0,855.0 422.5,862.5 415.0,870.0 412.0,880.0 409.4,881.9 389.4,889.9 373.5,899.8 353.6,913.8 335.7,921.8 319.7,933.7 299.8,937.7 275.9,935.7 264.0,928.7" fill="#abcc5b"/>
<polygon points="258.0,953.6 262.0,945.7 264.0,928.7 275.9,935.7 299.8,937.7 319.7,933.7 335.7,921.8 353.6,913.8 373.5,899.8 389.4,889.9 409.4,881.9 415.0,880.0 420.0,887.5 427.5,900.0 432.5,907.5 437.5,915.0 437.5,925.0 430.0,932.5 410.0,937.5 395.0,945.0 387.5,950.0 380.0,955.0 377.5,965.0 372.5,975.0 352.5,977.5 335.0,982.5 315.0,990.0 310.0,995.0 305.0,1005.0 300.0,1000.0 290.0,990.0 280.0,980.0 270.0,970.0 262.5,960.0" fill="#f29a1e"/>
<polygon points="412.0,880.0 415.0,870.0 422.5,862.5 435.0,861.0 445.0,857.5 452.5,863.0 460.0,872.5 472.5,879.0 480.0,886.0 485.0,900.0 487.5,915.0 480.0,917.5 472.5,912.5 465.0,920.0 452.5,927.0 437.5,925.0 437.5,915.0 432.5,907.5 427.5,900.0 420.0,887.5" fill="#f29a1e"/>
<polygon points="392.5,947.5 415.0,940.0 435.0,932.5 452.5,927.0 465.0,920.0 477.5,924.0 487.5,930.0 487.5,945.0 482.5,950.0 470.0,955.0 455.0,955.0 445.0,970.0 440.0,982.5 432.5,985.0 422.5,980.0 410.0,967.5 395.0,960.0 385.0,957.5 380.0,955.0 387.5,950.0" fill="#abcc5b"/>
<polygon points="305.0,1005.0 310.0,995.0 315.0,990.0 335.0,982.5 352.5,977.5 372.5,975.0 377.5,965.0 380.0,955.0 385.0,957.5 395.0,960.0 410.0,967.5 422.5,980.0 432.5,985.0 440.0,982.5 445.0,970.0 455.0,955.0 470.0,955.0 482.5,950.0 487.5,945.0 490.0,990.0 482.5,995.0 470.0,1005.0 457.5,1015.0 447.5,1025.0 440.0,1035.0 437.5,1045.0 430.0,1055.0 420.0,1065.0 410.0,1070.0 392.5,1075.0 380.0,1075.0 362.5,1067.5 350.0,1055.0 345.0,1040.0 335.0,1027.5 320.0,1015.0" fill="#abcc5b"/>
<polygon points="410.0,1071.0 420.0,1065.0 430.0,1055.0 437.5,1045.0 440.0,1035.0 447.5,1025.0 457.5,1015.0 470.0,1005.0 482.5,995.0 490.0,990.0 502.5,997.5 510.0,1005.0 512.5,1020.0 517.5,1035.0 522.5,1045.0 515.0,1055.0 500.0,1062.5 485.0,1070.0 475.0,1075.0 487.5,1077.5 495.0,1082.5 500.0,1090.0 490.0,1095.0 487.5,1110.0 490.0,1122.5 465.0,1122.5 452.5,1125.0 447.5,1120.0 430.0,1107.5 415.0,1090.0" fill="#f29a1e"/>
<polygon points="475.0,1075.0 485.0,1070.0 500.0,1062.5 515.0,1055.0 522.5,1045.0 527.5,1042.5 530.0,1055.0 535.0,1060.0 520.0,1075.0 507.5,1085.0 500.0,1090.0 495.0,1082.5 487.5,1077.5" fill="#e30b17"/>
<polygon points="490.0,1095.0 495.0,1087.5 505.0,1085.0 522.5,1075.0 535.0,1067.5 545.0,1070.0 550.0,1080.0 547.5,1095.0 550.0,1117.5 557.5,1125.0 570.0,1132.5 576.2,1140.0 565.0,1145.0 545.0,1145.0 522.5,1140.0 502.5,1130.0 490.0,1122.5 487.5,1110.0" fill="#f29a1e"/>
<polygon points="452.5,1125.0 465.0,1122.5 490.0,1122.5 502.5,1130.0 522.5,1140.0 545.0,1145.0 565.0,1145.0 576.2,1140.0 570.0,1146.0 550.0,1147.5 515.0,1150.0 500.0,1155.0 497.5,1160.0 507.5,1170.0 527.5,1180.0 550.0,1187.5 565.0,1192.5 567.5,1202.5 557.5,1207.5 545.0,1210.0 530.0,1215.0 515.0,1220.0 507.5,1217.5 500.0,1205.0 495.0,1192.5 472.5,1185.0 465.0,1170.0 460.0,1150.0 455.0,1135.0" fill="#f29a1e"/>
<polygon points="527.5,1000.0 540.0,990.0 555.0,987.5 565.0,990.0 567.5,995.0 563.0,1003.0 568.0,1013.0 577.0,1025.0 585.0,1038.0 593.0,1050.0 603.0,1061.0 618.0,1060.0 632.0,1051.0 647.0,1043.0 662.0,1050.0 675.0,1057.0 680.0,1061.0 670.0,1072.0 660.0,1090.0 650.0,1105.0 637.5,1120.0 622.5,1127.5 605.0,1132.5 582.5,1135.0 570.0,1132.5 557.5,1125.0 550.0,1117.5 547.5,1095.0 550.0,1080.0 545.0,1070.0 535.0,1060.0 530.0,1045.0 525.0,1030.0 526.2,1015.0" fill="#e30b17"/>
<polygon points="590.0,947.5 600.0,942.5 612.5,945.0 620.0,940.0 630.0,940.0 633.8,947.5 632.5,957.5 637.5,967.5 630.0,975.0 620.0,982.5 617.5,995.0 620.0,1010.0 630.0,1017.5 645.0,1020.0 652.5,1025.0 647.0,1043.0 632.0,1051.0 618.0,1060.0 603.0,1061.0 593.0,1050.0 585.0,1038.0 577.0,1025.0 568.0,1013.0 563.0,1003.0 567.5,995.0 572.5,992.5 580.0,980.0 585.0,965.0" fill="#e30b17"/>
<polygon points="633.8,947.5 637.5,940.0 652.5,940.0 665.0,935.0 668.8,922.5 670.0,920.0 672.5,927.5 671.2,935.0 680.0,945.0 690.0,952.5 695.0,962.5 687.5,970.0 680.0,985.0 672.5,1000.0 670.0,1015.0 662.5,1020.0 652.5,1025.0 645.0,1020.0 630.0,1017.5 620.0,1010.0 617.5,995.0 620.0,982.5 630.0,975.0 637.5,967.5 632.5,957.5" fill="#f29a1e"/>
<polygon points="647.0,1043.0 652.5,1035.0 662.5,1025.0 670.0,1012.5 675.0,1000.0 682.5,985.0 690.0,972.0 700.0,968.4 725.4,956.5 735.6,954.8 759.3,941.3 767.7,943.0 779.6,946.4 791.4,939.6 801.6,927.7 804.1,919.3 810.0,907.4 821.9,893.9 835.5,883.7 847.3,875.2 852.4,874.4 855.0,881.0 848.0,889.0 835.0,898.0 821.0,913.0 811.0,925.0 808.0,934.0 803.0,941.0 792.0,949.5 779.6,954.0 767.7,963.3 759.3,975.1 754.2,985.3 748.0,1000.0 740.0,1005.0 732.5,1012.0 725.0,1022.5 720.0,1035.0 705.0,1045.0 690.0,1050.0 675.0,1054.0 662.0,1050.0" fill="#abcc5b"/>
<polygon points="762.0,986.0 770.5,979.0 784.0,973.5 799.0,965.0 811.0,958.0 818.0,952.0 823.0,954.0 823.0,960.0 820.0,966.0 806.0,975.0 790.0,983.5 773.0,989.5 764.0,992.0" fill="#abcc5b"/>
<polygon points="487.5,920.0 495.0,920.0 502.5,927.5 512.5,937.5 525.0,947.5 535.0,952.5 547.5,950.0 560.0,945.0 575.0,937.5 587.5,927.5 592.0,935.0 590.0,947.5 585.0,965.0 580.0,980.0 572.5,992.5 567.5,995.0 565.0,990.0 555.0,987.5 540.0,990.0 527.5,1000.0 526.2,1015.0 525.0,1030.0 522.5,1045.0 517.5,1035.0 512.5,1020.0 510.0,1005.0 502.5,997.5 490.0,990.0 487.5,945.0 487.5,930.0" fill="#abcc5b"/>
<polygon points="497.5,890.0 522.5,885.0 535.0,880.0 550.0,875.0 555.0,867.5 560.0,870.0 565.0,890.0 570.0,910.0 580.0,920.0 587.5,927.5 575.0,937.5 560.0,945.0 547.5,950.0 535.0,952.5 525.0,947.5 512.5,937.5 502.5,927.5 495.0,920.0 497.5,905.0" fill="#f29a1e"/>
<g mask="url(#mIn)" fill="none" stroke="#a8ecdf" stroke-width="3.4" stroke-linejoin="round"><polygon points="264.0,928.7 273.9,923.7 287.8,913.8 303.8,899.8 315.7,887.9 319.7,875.9 321.7,869.0 339.6,862.0 360.0,853.0 387.0,843.0 404.0,832.0 414.0,821.0 420.0,808.0 425.0,796.0 428.0,790.0 433.0,800.0 435.0,825.0 434.0,842.0 428.0,855.0 422.5,862.5 415.0,870.0 412.0,880.0 409.4,881.9 389.4,889.9 373.5,899.8 353.6,913.8 335.7,921.8 319.7,933.7 299.8,937.7 275.9,935.7 264.0,928.7"/><polygon points="258.0,953.6 262.0,945.7 264.0,928.7 275.9,935.7 299.8,937.7 319.7,933.7 335.7,921.8 353.6,913.8 373.5,899.8 389.4,889.9 409.4,881.9 415.0,880.0 420.0,887.5 427.5,900.0 432.5,907.5 437.5,915.0 437.5,925.0 430.0,932.5 410.0,937.5 395.0,945.0 387.5,950.0 380.0,955.0 377.5,965.0 372.5,975.0 352.5,977.5 335.0,982.5 315.0,990.0 310.0,995.0 305.0,1005.0 300.0,1000.0 290.0,990.0 280.0,980.0 270.0,970.0 262.5,960.0"/><polygon points="412.0,880.0 415.0,870.0 422.5,862.5 435.0,861.0 445.0,857.5 452.5,863.0 460.0,872.5 472.5,879.0 480.0,886.0 485.0,900.0 487.5,915.0 480.0,917.5 472.5,912.5 465.0,920.0 452.5,927.0 437.5,925.0 437.5,915.0 432.5,907.5 427.5,900.0 420.0,887.5"/><polygon points="392.5,947.5 415.0,940.0 435.0,932.5 452.5,927.0 465.0,920.0 477.5,924.0 487.5,930.0 487.5,945.0 482.5,950.0 470.0,955.0 455.0,955.0 445.0,970.0 440.0,982.5 432.5,985.0 422.5,980.0 410.0,967.5 395.0,960.0 385.0,957.5 380.0,955.0 387.5,950.0"/><polygon points="305.0,1005.0 310.0,995.0 315.0,990.0 335.0,982.5 352.5,977.5 372.5,975.0 377.5,965.0 380.0,955.0 385.0,957.5 395.0,960.0 410.0,967.5 422.5,980.0 432.5,985.0 440.0,982.5 445.0,970.0 455.0,955.0 470.0,955.0 482.5,950.0 487.5,945.0 490.0,990.0 482.5,995.0 470.0,1005.0 457.5,1015.0 447.5,1025.0 440.0,1035.0 437.5,1045.0 430.0,1055.0 420.0,1065.0 410.0,1070.0 392.5,1075.0 380.0,1075.0 362.5,1067.5 350.0,1055.0 345.0,1040.0 335.0,1027.5 320.0,1015.0"/><polygon points="410.0,1071.0 420.0,1065.0 430.0,1055.0 437.5,1045.0 440.0,1035.0 447.5,1025.0 457.5,1015.0 470.0,1005.0 482.5,995.0 490.0,990.0 502.5,997.5 510.0,1005.0 512.5,1020.0 517.5,1035.0 522.5,1045.0 515.0,1055.0 500.0,1062.5 485.0,1070.0 475.0,1075.0 487.5,1077.5 495.0,1082.5 500.0,1090.0 490.0,1095.0 487.5,1110.0 490.0,1122.5 465.0,1122.5 452.5,1125.0 447.5,1120.0 430.0,1107.5 415.0,1090.0"/><polygon points="475.0,1075.0 485.0,1070.0 500.0,1062.5 515.0,1055.0 522.5,1045.0 527.5,1042.5 530.0,1055.0 535.0,1060.0 520.0,1075.0 507.5,1085.0 500.0,1090.0 495.0,1082.5 487.5,1077.5"/><polygon points="490.0,1095.0 495.0,1087.5 505.0,1085.0 522.5,1075.0 535.0,1067.5 545.0,1070.0 550.0,1080.0 547.5,1095.0 550.0,1117.5 557.5,1125.0 570.0,1132.5 576.2,1140.0 565.0,1145.0 545.0,1145.0 522.5,1140.0 502.5,1130.0 490.0,1122.5 487.5,1110.0"/><polygon points="452.5,1125.0 465.0,1122.5 490.0,1122.5 502.5,1130.0 522.5,1140.0 545.0,1145.0 565.0,1145.0 576.2,1140.0 570.0,1146.0 550.0,1147.5 515.0,1150.0 500.0,1155.0 497.5,1160.0 507.5,1170.0 527.5,1180.0 550.0,1187.5 565.0,1192.5 567.5,1202.5 557.5,1207.5 545.0,1210.0 530.0,1215.0 515.0,1220.0 507.5,1217.5 500.0,1205.0 495.0,1192.5 472.5,1185.0 465.0,1170.0 460.0,1150.0 455.0,1135.0"/><polygon points="527.5,1000.0 540.0,990.0 555.0,987.5 565.0,990.0 567.5,995.0 563.0,1003.0 568.0,1013.0 577.0,1025.0 585.0,1038.0 593.0,1050.0 603.0,1061.0 618.0,1060.0 632.0,1051.0 647.0,1043.0 662.0,1050.0 675.0,1057.0 680.0,1061.0 670.0,1072.0 660.0,1090.0 650.0,1105.0 637.5,1120.0 622.5,1127.5 605.0,1132.5 582.5,1135.0 570.0,1132.5 557.5,1125.0 550.0,1117.5 547.5,1095.0 550.0,1080.0 545.0,1070.0 535.0,1060.0 530.0,1045.0 525.0,1030.0 526.2,1015.0"/><polygon points="590.0,947.5 600.0,942.5 612.5,945.0 620.0,940.0 630.0,940.0 633.8,947.5 632.5,957.5 637.5,967.5 630.0,975.0 620.0,982.5 617.5,995.0 620.0,1010.0 630.0,1017.5 645.0,1020.0 652.5,1025.0 647.0,1043.0 632.0,1051.0 618.0,1060.0 603.0,1061.0 593.0,1050.0 585.0,1038.0 577.0,1025.0 568.0,1013.0 563.0,1003.0 567.5,995.0 572.5,992.5 580.0,980.0 585.0,965.0"/><polygon points="633.8,947.5 637.5,940.0 652.5,940.0 665.0,935.0 668.8,922.5 670.0,920.0 672.5,927.5 671.2,935.0 680.0,945.0 690.0,952.5 695.0,962.5 687.5,970.0 680.0,985.0 672.5,1000.0 670.0,1015.0 662.5,1020.0 652.5,1025.0 645.0,1020.0 630.0,1017.5 620.0,1010.0 617.5,995.0 620.0,982.5 630.0,975.0 637.5,967.5 632.5,957.5"/><polygon points="647.0,1043.0 652.5,1035.0 662.5,1025.0 670.0,1012.5 675.0,1000.0 682.5,985.0 690.0,972.0 700.0,968.4 725.4,956.5 735.6,954.8 759.3,941.3 767.7,943.0 779.6,946.4 791.4,939.6 801.6,927.7 804.1,919.3 810.0,907.4 821.9,893.9 835.5,883.7 847.3,875.2 852.4,874.4 855.0,881.0 848.0,889.0 835.0,898.0 821.0,913.0 811.0,925.0 808.0,934.0 803.0,941.0 792.0,949.5 779.6,954.0 767.7,963.3 759.3,975.1 754.2,985.3 748.0,1000.0 740.0,1005.0 732.5,1012.0 725.0,1022.5 720.0,1035.0 705.0,1045.0 690.0,1050.0 675.0,1054.0 662.0,1050.0"/><polygon points="762.0,986.0 770.5,979.0 784.0,973.5 799.0,965.0 811.0,958.0 818.0,952.0 823.0,954.0 823.0,960.0 820.0,966.0 806.0,975.0 790.0,983.5 773.0,989.5 764.0,992.0"/><polygon points="487.5,920.0 495.0,920.0 502.5,927.5 512.5,937.5 525.0,947.5 535.0,952.5 547.5,950.0 560.0,945.0 575.0,937.5 587.5,927.5 592.0,935.0 590.0,947.5 585.0,965.0 580.0,980.0 572.5,992.5 567.5,995.0 565.0,990.0 555.0,987.5 540.0,990.0 527.5,1000.0 526.2,1015.0 525.0,1030.0 522.5,1045.0 517.5,1035.0 512.5,1020.0 510.0,1005.0 502.5,997.5 490.0,990.0 487.5,945.0 487.5,930.0"/><polygon points="497.5,890.0 522.5,885.0 535.0,880.0 550.0,875.0 555.0,867.5 560.0,870.0 565.0,890.0 570.0,910.0 580.0,920.0 587.5,927.5 575.0,937.5 560.0,945.0 547.5,950.0 535.0,952.5 525.0,947.5 512.5,937.5 502.5,927.5 495.0,920.0 497.5,905.0"/></g>
<g mask="url(#mEr)" fill="none" stroke="#8a99a6" stroke-width="2.8" stroke-linejoin="round"><polygon points="264.0,928.7 273.9,923.7 287.8,913.8 303.8,899.8 315.7,887.9 319.7,875.9 321.7,869.0 339.6,862.0 360.0,853.0 387.0,843.0 404.0,832.0 414.0,821.0 420.0,808.0 425.0,796.0 428.0,790.0 433.0,800.0 435.0,825.0 434.0,842.0 428.0,855.0 422.5,862.5 415.0,870.0 412.0,880.0 409.4,881.9 389.4,889.9 373.5,899.8 353.6,913.8 335.7,921.8 319.7,933.7 299.8,937.7 275.9,935.7 264.0,928.7"/><polygon points="258.0,953.6 262.0,945.7 264.0,928.7 275.9,935.7 299.8,937.7 319.7,933.7 335.7,921.8 353.6,913.8 373.5,899.8 389.4,889.9 409.4,881.9 415.0,880.0 420.0,887.5 427.5,900.0 432.5,907.5 437.5,915.0 437.5,925.0 430.0,932.5 410.0,937.5 395.0,945.0 387.5,950.0 380.0,955.0 377.5,965.0 372.5,975.0 352.5,977.5 335.0,982.5 315.0,990.0 310.0,995.0 305.0,1005.0 300.0,1000.0 290.0,990.0 280.0,980.0 270.0,970.0 262.5,960.0"/><polygon points="412.0,880.0 415.0,870.0 422.5,862.5 435.0,861.0 445.0,857.5 452.5,863.0 460.0,872.5 472.5,879.0 480.0,886.0 485.0,900.0 487.5,915.0 480.0,917.5 472.5,912.5 465.0,920.0 452.5,927.0 437.5,925.0 437.5,915.0 432.5,907.5 427.5,900.0 420.0,887.5"/><polygon points="392.5,947.5 415.0,940.0 435.0,932.5 452.5,927.0 465.0,920.0 477.5,924.0 487.5,930.0 487.5,945.0 482.5,950.0 470.0,955.0 455.0,955.0 445.0,970.0 440.0,982.5 432.5,985.0 422.5,980.0 410.0,967.5 395.0,960.0 385.0,957.5 380.0,955.0 387.5,950.0"/><polygon points="305.0,1005.0 310.0,995.0 315.0,990.0 335.0,982.5 352.5,977.5 372.5,975.0 377.5,965.0 380.0,955.0 385.0,957.5 395.0,960.0 410.0,967.5 422.5,980.0 432.5,985.0 440.0,982.5 445.0,970.0 455.0,955.0 470.0,955.0 482.5,950.0 487.5,945.0 490.0,990.0 482.5,995.0 470.0,1005.0 457.5,1015.0 447.5,1025.0 440.0,1035.0 437.5,1045.0 430.0,1055.0 420.0,1065.0 410.0,1070.0 392.5,1075.0 380.0,1075.0 362.5,1067.5 350.0,1055.0 345.0,1040.0 335.0,1027.5 320.0,1015.0"/><polygon points="410.0,1071.0 420.0,1065.0 430.0,1055.0 437.5,1045.0 440.0,1035.0 447.5,1025.0 457.5,1015.0 470.0,1005.0 482.5,995.0 490.0,990.0 502.5,997.5 510.0,1005.0 512.5,1020.0 517.5,1035.0 522.5,1045.0 515.0,1055.0 500.0,1062.5 485.0,1070.0 475.0,1075.0 487.5,1077.5 495.0,1082.5 500.0,1090.0 490.0,1095.0 487.5,1110.0 490.0,1122.5 465.0,1122.5 452.5,1125.0 447.5,1120.0 430.0,1107.5 415.0,1090.0"/><polygon points="475.0,1075.0 485.0,1070.0 500.0,1062.5 515.0,1055.0 522.5,1045.0 527.5,1042.5 530.0,1055.0 535.0,1060.0 520.0,1075.0 507.5,1085.0 500.0,1090.0 495.0,1082.5 487.5,1077.5"/><polygon points="490.0,1095.0 495.0,1087.5 505.0,1085.0 522.5,1075.0 535.0,1067.5 545.0,1070.0 550.0,1080.0 547.5,1095.0 550.0,1117.5 557.5,1125.0 570.0,1132.5 576.2,1140.0 565.0,1145.0 545.0,1145.0 522.5,1140.0 502.5,1130.0 490.0,1122.5 487.5,1110.0"/><polygon points="452.5,1125.0 465.0,1122.5 490.0,1122.5 502.5,1130.0 522.5,1140.0 545.0,1145.0 565.0,1145.0 576.2,1140.0 570.0,1146.0 550.0,1147.5 515.0,1150.0 500.0,1155.0 497.5,1160.0 507.5,1170.0 527.5,1180.0 550.0,1187.5 565.0,1192.5 567.5,1202.5 557.5,1207.5 545.0,1210.0 530.0,1215.0 515.0,1220.0 507.5,1217.5 500.0,1205.0 495.0,1192.5 472.5,1185.0 465.0,1170.0 460.0,1150.0 455.0,1135.0"/><polygon points="527.5,1000.0 540.0,990.0 555.0,987.5 565.0,990.0 567.5,995.0 563.0,1003.0 568.0,1013.0 577.0,1025.0 585.0,1038.0 593.0,1050.0 603.0,1061.0 618.0,1060.0 632.0,1051.0 647.0,1043.0 662.0,1050.0 675.0,1057.0 680.0,1061.0 670.0,1072.0 660.0,1090.0 650.0,1105.0 637.5,1120.0 622.5,1127.5 605.0,1132.5 582.5,1135.0 570.0,1132.5 557.5,1125.0 550.0,1117.5 547.5,1095.0 550.0,1080.0 545.0,1070.0 535.0,1060.0 530.0,1045.0 525.0,1030.0 526.2,1015.0"/><polygon points="590.0,947.5 600.0,942.5 612.5,945.0 620.0,940.0 630.0,940.0 633.8,947.5 632.5,957.5 637.5,967.5 630.0,975.0 620.0,982.5 617.5,995.0 620.0,1010.0 630.0,1017.5 645.0,1020.0 652.5,1025.0 647.0,1043.0 632.0,1051.0 618.0,1060.0 603.0,1061.0 593.0,1050.0 585.0,1038.0 577.0,1025.0 568.0,1013.0 563.0,1003.0 567.5,995.0 572.5,992.5 580.0,980.0 585.0,965.0"/><polygon points="633.8,947.5 637.5,940.0 652.5,940.0 665.0,935.0 668.8,922.5 670.0,920.0 672.5,927.5 671.2,935.0 680.0,945.0 690.0,952.5 695.0,962.5 687.5,970.0 680.0,985.0 672.5,1000.0 670.0,1015.0 662.5,1020.0 652.5,1025.0 645.0,1020.0 630.0,1017.5 620.0,1010.0 617.5,995.0 620.0,982.5 630.0,975.0 637.5,967.5 632.5,957.5"/><polygon points="647.0,1043.0 652.5,1035.0 662.5,1025.0 670.0,1012.5 675.0,1000.0 682.5,985.0 690.0,972.0 700.0,968.4 725.4,956.5 735.6,954.8 759.3,941.3 767.7,943.0 779.6,946.4 791.4,939.6 801.6,927.7 804.1,919.3 810.0,907.4 821.9,893.9 835.5,883.7 847.3,875.2 852.4,874.4 855.0,881.0 848.0,889.0 835.0,898.0 821.0,913.0 811.0,925.0 808.0,934.0 803.0,941.0 792.0,949.5 779.6,954.0 767.7,963.3 759.3,975.1 754.2,985.3 748.0,1000.0 740.0,1005.0 732.5,1012.0 725.0,1022.5 720.0,1035.0 705.0,1045.0 690.0,1050.0 675.0,1054.0 662.0,1050.0"/><polygon points="762.0,986.0 770.5,979.0 784.0,973.5 799.0,965.0 811.0,958.0 818.0,952.0 823.0,954.0 823.0,960.0 820.0,966.0 806.0,975.0 790.0,983.5 773.0,989.5 764.0,992.0"/><polygon points="487.5,920.0 495.0,920.0 502.5,927.5 512.5,937.5 525.0,947.5 535.0,952.5 547.5,950.0 560.0,945.0 575.0,937.5 587.5,927.5 592.0,935.0 590.0,947.5 585.0,965.0 580.0,980.0 572.5,992.5 567.5,995.0 565.0,990.0 555.0,987.5 540.0,990.0 527.5,1000.0 526.2,1015.0 525.0,1030.0 522.5,1045.0 517.5,1035.0 512.5,1020.0 510.0,1005.0 502.5,997.5 490.0,990.0 487.5,945.0 487.5,930.0"/><polygon points="497.5,890.0 522.5,885.0 535.0,880.0 550.0,875.0 555.0,867.5 560.0,870.0 565.0,890.0 570.0,910.0 580.0,920.0 587.5,927.5 575.0,937.5 560.0,945.0 547.5,950.0 535.0,952.5 525.0,947.5 512.5,937.5 502.5,927.5 495.0,920.0 497.5,905.0"/></g>
<polygon points="482.5,878.0 492.0,874.0 500.0,876.0 505.0,885.0 503.0,900.0 499.0,912.0 492.0,918.0 487.5,915.0 485.0,900.0" fill="#d993a3" stroke="#c6eee4" stroke-width="1"/>
<polyline points="112.5,483.8 217.3,483.8 489.5,552.0" fill="none" stroke="#c9363c" stroke-width="1.1"/>
<polyline points="112.5,606.3 195.0,606.3 386.2,650.8" fill="none" stroke="#c9363c" stroke-width="1.1"/>
<polyline points="103.5,727.4 193.4,727.4 359.2,762.5" fill="none" stroke="#d9707a" stroke-width="1.1"/>
<polyline points="103.5,823.6 414.5,821.2" fill="none" stroke="#e0a07a" stroke-width="1.1"/>
<polyline points="103.5,892.8 225.4,892.8 391.8,843.8" fill="none" stroke="#e0a07a" stroke-width="1.1"/>
<polyline points="103.2,991.6 405.0,992.5 470.0,977.5" fill="none" stroke="#eeb080" stroke-width="1.1"/>
<polyline points="103.2,1064.5 255.9,1064.5 438.2,1002.5" fill="none" stroke="#eeb080" stroke-width="1.1"/>
<polyline points="103.2,1151.0 260.0,1151.0 477.0,1015.8" fill="none" stroke="#eeb080" stroke-width="1.1"/>
<polyline points="111.5,1231.0 357.5,1231.0 508.8,1068.8" fill="none" stroke="#c9363c" stroke-width="1.1"/>
<polyline points="869.0,1070.2 672.0,1070.2" fill="none" stroke="#c9363c" stroke-width="1.1"/>
<g font-family="Liberation Sans, sans-serif">
<text x="598.8" y="400.0" font-size="25.0" font-weight="bold" fill="#3c6595" stroke="#3c6595" stroke-width="0.5" textLength="25.0" lengthAdjust="spacingAndGlyphs">14</text>
<text x="566.0" y="413.5" font-size="11.5" font-weight="normal" fill="#2e3328" stroke="#2e3328" stroke-width="0.35" textLength="88.0" lengthAdjust="spacingAndGlyphs">Катангский район</text>
<text x="625.0" y="372.5" font-size="14.0" font-weight="bold" fill="#d8261c" text-anchor="middle">+4</text>
<text x="652.5" y="576.2" font-size="23.2" font-weight="bold" fill="#3c6595" stroke="#3c6595" stroke-width="0.5" textLength="38.8" lengthAdjust="spacingAndGlyphs">145</text>
<text x="661.0" y="592.5" font-size="11.5" font-weight="normal" fill="#2e3328" stroke="#2e3328" stroke-width="0.35" textLength="53.0" lengthAdjust="spacingAndGlyphs">Киренский</text>
<text x="674.0" y="606.0" font-size="11.5" font-weight="normal" fill="#2e3328" stroke="#2e3328" stroke-width="0.35" textLength="28.5" lengthAdjust="spacingAndGlyphs">район</text>
<text x="693.8" y="552.5" font-size="14.0" font-weight="bold" fill="#d8261c" text-anchor="middle">+1</text>
<text x="758.8" y="560.0" font-size="23.2" font-weight="bold" fill="#3c6595" stroke="#3c6595" stroke-width="0.5" textLength="26.2" lengthAdjust="spacingAndGlyphs">22</text>
<text x="718.8" y="574.5" font-size="11.5" font-weight="normal" fill="#2e3328" stroke="#2e3328" stroke-width="0.35" textLength="81.2" lengthAdjust="spacingAndGlyphs">Мамско-Чуйский</text>
<text x="745.0" y="587.5" font-size="11.5" font-weight="normal" fill="#2e3328" stroke="#2e3328" stroke-width="0.35" textLength="28.8" lengthAdjust="spacingAndGlyphs">район</text>
<text x="840.5" y="516.7" font-size="25.3" font-weight="bold" fill="#3c6595" stroke="#3c6595" stroke-width="0.5" textLength="55.7" lengthAdjust="spacingAndGlyphs">1 071</text>
<text x="832.8" y="537.0" font-size="11.5" font-weight="normal" fill="#3a1a1a" stroke="#3a1a1a" stroke-width="0.35" textLength="50.2" lengthAdjust="spacingAndGlyphs">г. Бодайбо</text>
<text x="888.6" y="484.5" font-size="14.0" font-weight="bold" fill="#ffffff" text-anchor="middle">+9</text>
<text x="606.0" y="705.0" font-size="23.2" font-weight="bold" fill="#3c6595" stroke="#3c6595" stroke-width="0.5" textLength="37.8" lengthAdjust="spacingAndGlyphs">113</text>
<text x="593.8" y="726.0" font-size="11.5" font-weight="normal" fill="#2e3328" stroke="#2e3328" stroke-width="0.35" textLength="101.2" lengthAdjust="spacingAndGlyphs">Казачинско-Ленский</text>
<text x="630.0" y="740.0" font-size="11.5" font-weight="normal" fill="#2e3328" stroke="#2e3328" stroke-width="0.35" textLength="28.8" lengthAdjust="spacingAndGlyphs">район</text>
<text x="425.0" y="568.8" font-size="23.2" font-weight="bold" fill="#3c6595" stroke="#3c6595" stroke-width="0.5" textLength="38.8" lengthAdjust="spacingAndGlyphs">146</text>
<text x="401.0" y="582.5" font-size="11.5" font-weight="normal" fill="#2e3328" stroke="#2e3328" stroke-width="0.35" textLength="75.0" lengthAdjust="spacingAndGlyphs">Усть - Илимский</text>
<text x="424.0" y="595.0" font-size="11.5" font-weight="normal" fill="#2e3328" stroke="#2e3328" stroke-width="0.35" textLength="28.5" lengthAdjust="spacingAndGlyphs">район</text>
<text x="462.5" y="638.8" font-size="23.2" font-weight="bold" fill="#3c6595" stroke="#3c6595" stroke-width="0.5" textLength="38.8" lengthAdjust="spacingAndGlyphs">307</text>
<text x="443.8" y="653.8" font-size="11.5" font-weight="normal" fill="#2e3328" stroke="#2e3328" stroke-width="0.35" textLength="78.8" lengthAdjust="spacingAndGlyphs">Нижнеилимский</text>
<text x="470.0" y="667.5" font-size="11.5" font-weight="normal" fill="#2e3328" stroke="#2e3328" stroke-width="0.35" textLength="28.8" lengthAdjust="spacingAndGlyphs">район</text>
<text x="487.0" y="613.8" font-size="14.0" font-weight="bold" fill="#d8261c" text-anchor="middle">+5</text>
<text x="523.8" y="638.8" font-size="23.2" font-weight="bold" fill="#3c6595" stroke="#3c6595" stroke-width="0.5" textLength="58.8" lengthAdjust="spacingAndGlyphs">1 976</text>
<text x="528.8" y="667.5" font-size="11.5" font-weight="normal" fill="#3a1a1a" stroke="#3a1a1a" stroke-width="0.35" textLength="66.2" lengthAdjust="spacingAndGlyphs">Усть - Кутский</text>
<text x="546.0" y="681.0" font-size="11.5" font-weight="normal" fill="#3a1a1a" stroke="#3a1a1a" stroke-width="0.35" textLength="30.0" lengthAdjust="spacingAndGlyphs">район</text>
<text x="567.5" y="608.8" font-size="14.0" font-weight="bold" fill="#ffffff" text-anchor="middle">+6</text>
<text x="392.5" y="695.0" font-size="23.2" font-weight="bold" fill="#3c6595" stroke="#3c6595" stroke-width="0.5" textLength="38.8" lengthAdjust="spacingAndGlyphs">175</text>
<text x="395.0" y="711.0" font-size="11.5" font-weight="normal" fill="#2e3328" stroke="#2e3328" stroke-width="0.35" textLength="43.8" lengthAdjust="spacingAndGlyphs">Братский</text>
<text x="402.5" y="725.0" font-size="11.5" font-weight="normal" fill="#2e3328" stroke="#2e3328" stroke-width="0.35" textLength="28.8" lengthAdjust="spacingAndGlyphs">район</text>
<text x="478.8" y="716.2" font-size="23.2" font-weight="bold" fill="#3c6595" stroke="#3c6595" stroke-width="0.5" textLength="26.2" lengthAdjust="spacingAndGlyphs">49</text>
<text x="453.8" y="732.5" font-size="11.5" font-weight="normal" fill="#2e3328" stroke="#2e3328" stroke-width="0.35" textLength="70.0" lengthAdjust="spacingAndGlyphs">Усть–Удинский</text>
<text x="475.0" y="746.0" font-size="11.5" font-weight="normal" fill="#2e3328" stroke="#2e3328" stroke-width="0.35" textLength="28.8" lengthAdjust="spacingAndGlyphs">район</text>
<text x="531.2" y="750.0" font-size="23.2" font-weight="bold" fill="#3c6595" stroke="#3c6595" stroke-width="0.5" textLength="26.2" lengthAdjust="spacingAndGlyphs">54</text>
<text x="506.0" y="763.8" font-size="11.5" font-weight="normal" fill="#2e3328" stroke="#2e3328" stroke-width="0.35" textLength="64.0" lengthAdjust="spacingAndGlyphs">Жигаловский</text>
<text x="523.8" y="777.5" font-size="11.5" font-weight="normal" fill="#2e3328" stroke="#2e3328" stroke-width="0.35" textLength="28.8" lengthAdjust="spacingAndGlyphs">район</text>
<text x="330.0" y="632.5" font-size="21.4" font-weight="bold" fill="#3c6595" stroke="#3c6595" stroke-width="0.5" textLength="26.2" lengthAdjust="spacingAndGlyphs">64</text>
<text x="316.0" y="662.5" font-size="11.5" font-weight="normal" fill="#2e3328" stroke="#2e3328" stroke-width="0.35" textLength="41.5" lengthAdjust="spacingAndGlyphs">Чунский</text>
<text x="322.5" y="676.0" font-size="11.5" font-weight="normal" fill="#2e3328" stroke="#2e3328" stroke-width="0.35" textLength="28.8" lengthAdjust="spacingAndGlyphs">район</text>
<text x="242.5" y="705.0" font-size="23.2" font-weight="bold" fill="#3c6595" stroke="#3c6595" stroke-width="0.5" textLength="38.8" lengthAdjust="spacingAndGlyphs">397</text>
<text x="235.0" y="718.8" font-size="11.5" font-weight="normal" fill="#2e3328" stroke="#2e3328" stroke-width="0.35" textLength="56.2" lengthAdjust="spacingAndGlyphs">Тайшетский</text>
<text x="247.5" y="732.5" font-size="11.5" font-weight="normal" fill="#2e3328" stroke="#2e3328" stroke-width="0.35" textLength="30.0" lengthAdjust="spacingAndGlyphs">район</text>
<text x="287.0" y="674.5" font-size="14.0" font-weight="bold" fill="#d8261c" text-anchor="middle">+5</text>
<text x="248.8" y="792.5" font-size="23.6" font-weight="bold" fill="#3c6595" stroke="#3c6595" stroke-width="0.5" textLength="41.2" lengthAdjust="spacingAndGlyphs">419</text>
<text x="230.0" y="803.8" font-size="11.5" font-weight="normal" fill="#2e3328" stroke="#2e3328" stroke-width="0.35" textLength="78.8" lengthAdjust="spacingAndGlyphs">Нижнеудинский</text>
<text x="253.8" y="817.5" font-size="11.5" font-weight="normal" fill="#2e3328" stroke="#2e3328" stroke-width="0.35" textLength="30.0" lengthAdjust="spacingAndGlyphs">район</text>
<text x="303.8" y="768.8" font-size="14.0" font-weight="bold" fill="#d8261c" text-anchor="middle">+9</text>
<text x="336.0" y="805.0" font-size="23.2" font-weight="bold" fill="#3c6595" stroke="#3c6595" stroke-width="0.5" textLength="28.0" lengthAdjust="spacingAndGlyphs">36</text>
<text x="320.0" y="817.0" font-size="11.5" font-weight="normal" fill="#2e3328" stroke="#2e3328" stroke-width="0.35" textLength="47.5" lengthAdjust="spacingAndGlyphs">Тулунский</text>
<text x="328.8" y="830.0" font-size="11.5" font-weight="normal" fill="#2e3328" stroke="#2e3328" stroke-width="0.35" textLength="28.8" lengthAdjust="spacingAndGlyphs">район</text>
<text x="387.5" y="778.8" font-size="23.2" font-weight="bold" fill="#3c6595" stroke="#3c6595" stroke-width="0.5" textLength="40.0" lengthAdjust="spacingAndGlyphs">244</text>
<text x="372.5" y="791.0" font-size="11.5" font-weight="normal" fill="#2e3328" stroke="#2e3328" stroke-width="0.35" textLength="55.0" lengthAdjust="spacingAndGlyphs">Куйтунский</text>
<text x="385.0" y="805.0" font-size="11.5" font-weight="normal" fill="#2e3328" stroke="#2e3328" stroke-width="0.35" textLength="30.0" lengthAdjust="spacingAndGlyphs">район</text>
<text x="412.5" y="757.5" font-size="14.0" font-weight="bold" fill="#d8261c" text-anchor="middle">+8</text>
<text x="435.0" y="793.8" font-size="23.2" font-weight="bold" fill="#3c6595" stroke="#3c6595" stroke-width="0.5" textLength="25.0" lengthAdjust="spacingAndGlyphs">27</text>
<text x="421.0" y="806.0" font-size="11.5" font-weight="normal" fill="#2e3328" stroke="#2e3328" stroke-width="0.35" textLength="61.5" lengthAdjust="spacingAndGlyphs">Балаганский</text>
<text x="437.5" y="820.0" font-size="11.5" font-weight="normal" fill="#2e3328" stroke="#2e3328" stroke-width="0.35" textLength="28.5" lengthAdjust="spacingAndGlyphs">район</text>
<text x="558.9" y="810.2" font-size="22.0" font-weight="bold" fill="#3c6595" stroke="#3c6595" stroke-width="0.5" textLength="25.1" lengthAdjust="spacingAndGlyphs">77</text>
<text x="549.0" y="824.4" font-size="11.5" font-weight="normal" fill="#2e3328" stroke="#2e3328" stroke-width="0.35" textLength="49.4" lengthAdjust="spacingAndGlyphs">Качугский</text>
<text x="559.0" y="837.0" font-size="11.5" font-weight="normal" fill="#2e3328" stroke="#2e3328" stroke-width="0.35" textLength="29.7" lengthAdjust="spacingAndGlyphs">район</text>
<text x="337.5" y="888.8" font-size="23.2" font-weight="bold" fill="#3c6595" stroke="#3c6595" stroke-width="0.5" textLength="23.8" lengthAdjust="spacingAndGlyphs">13</text>
<text x="296.0" y="905.0" font-size="11.5" font-weight="normal" fill="#2e3328" stroke="#2e3328" stroke-width="0.35" textLength="54.0" lengthAdjust="spacingAndGlyphs">Зиминский</text>
<text x="308.8" y="918.8" font-size="11.5" font-weight="normal" fill="#2e3328" stroke="#2e3328" stroke-width="0.35" textLength="28.8" lengthAdjust="spacingAndGlyphs">район</text>
<text x="336.0" y="951.2" font-size="23.2" font-weight="bold" fill="#3c6595" stroke="#3c6595" stroke-width="0.5" textLength="39.0" lengthAdjust="spacingAndGlyphs">193</text>
<text x="273.8" y="966.2" font-size="11.5" font-weight="normal" fill="#2e3328" stroke="#2e3328" stroke-width="0.35" textLength="62.5" lengthAdjust="spacingAndGlyphs">Заларинский</text>
<text x="291.2" y="980.0" font-size="11.5" font-weight="normal" fill="#2e3328" stroke="#2e3328" stroke-width="0.35" textLength="28.8" lengthAdjust="spacingAndGlyphs">район</text>
<text x="389.2" y="924.5" font-size="14.0" font-weight="bold" fill="#d8261c" text-anchor="middle">+8</text>
<text x="427.5" y="897.5" font-size="23.2" font-weight="bold" fill="#3c6595" stroke="#3c6595" stroke-width="0.5" textLength="40.0" lengthAdjust="spacingAndGlyphs">227</text>
<text x="426.0" y="908.8" font-size="11.5" font-weight="normal" fill="#2e3328" stroke="#2e3328" stroke-width="0.35" textLength="49.0" lengthAdjust="spacingAndGlyphs">Нукутский</text>
<text x="436.0" y="921.0" font-size="11.5" font-weight="normal" fill="#2e3328" stroke="#2e3328" stroke-width="0.35" textLength="29.0" lengthAdjust="spacingAndGlyphs">район</text>
<text x="442.0" y="876.3" font-size="14.0" font-weight="bold" fill="#d8261c" text-anchor="middle">+4</text>
<text x="436.0" y="950.0" font-size="23.2" font-weight="bold" fill="#3c6595" stroke="#3c6595" stroke-width="0.5" textLength="39.0" lengthAdjust="spacingAndGlyphs">108</text>
<text x="403.8" y="966.2" font-size="11.5" font-weight="normal" fill="#2e3328" stroke="#2e3328" stroke-width="0.35" textLength="46.2" lengthAdjust="spacingAndGlyphs">Аларский</text>
<text x="412.5" y="980.0" font-size="11.5" font-weight="normal" fill="#2e3328" stroke="#2e3328" stroke-width="0.35" textLength="28.8" lengthAdjust="spacingAndGlyphs">район</text>
<text x="346.0" y="1016.2" font-size="23.2" font-weight="bold" fill="#3c6595" stroke="#3c6595" stroke-width="0.5" textLength="37.8" lengthAdjust="spacingAndGlyphs">141</text>
<text x="357.5" y="1041.2" font-size="11.5" font-weight="normal" fill="#2e3328" stroke="#2e3328" stroke-width="0.35" textLength="70.0" lengthAdjust="spacingAndGlyphs">Черемховский</text>
<text x="377.5" y="1055.0" font-size="11.5" font-weight="normal" fill="#2e3328" stroke="#2e3328" stroke-width="0.35" textLength="30.0" lengthAdjust="spacingAndGlyphs">район</text>
<text x="518.0" y="921.5" font-size="23.6" font-weight="bold" fill="#3c6595" stroke="#3c6595" stroke-width="0.5" textLength="39.0" lengthAdjust="spacingAndGlyphs">193</text>
<text x="515.0" y="936.0" font-size="11.5" font-weight="normal" fill="#2e3328" stroke="#2e3328" stroke-width="0.35" textLength="51.0" lengthAdjust="spacingAndGlyphs">Осинский</text>
<text x="526.0" y="950.0" font-size="11.5" font-weight="normal" fill="#2e3328" stroke="#2e3328" stroke-width="0.35" textLength="29.0" lengthAdjust="spacingAndGlyphs">район</text>
<text x="496.2" y="973.8" font-size="23.2" font-weight="bold" fill="#3c6595" stroke="#3c6595" stroke-width="0.5" textLength="38.8" lengthAdjust="spacingAndGlyphs">137</text>
<text x="492.5" y="986.2" font-size="11.5" font-weight="normal" fill="#2e3328" stroke="#2e3328" stroke-width="0.35" textLength="51.2" lengthAdjust="spacingAndGlyphs">Боханский</text>
<text x="503.8" y="1000.0" font-size="11.5" font-weight="normal" fill="#2e3328" stroke="#2e3328" stroke-width="0.35" textLength="28.8" lengthAdjust="spacingAndGlyphs">район</text>
<text x="445.0" y="1061.2" font-size="23.2" font-weight="bold" fill="#3c6595" stroke="#3c6595" stroke-width="0.5" textLength="38.8" lengthAdjust="spacingAndGlyphs">267</text>
<text x="433.8" y="1092.5" font-size="11.5" font-weight="normal" fill="#2e3328" stroke="#2e3328" stroke-width="0.35" textLength="48.8" lengthAdjust="spacingAndGlyphs">Усольский</text>
<text x="442.5" y="1106.0" font-size="11.5" font-weight="normal" fill="#2e3328" stroke="#2e3328" stroke-width="0.35" textLength="30.0" lengthAdjust="spacingAndGlyphs">район</text>
<text x="490.0" y="1037.5" font-size="14.0" font-weight="bold" fill="#d8261c" text-anchor="middle">+1</text>
<text x="498.8" y="1117.5" font-size="25.0" font-weight="bold" fill="#3c6595" stroke="#3c6595" stroke-width="0.5" textLength="38.8" lengthAdjust="spacingAndGlyphs">255</text>
<text x="482.5" y="1127.5" font-size="11.5" font-weight="normal" fill="#2e3328" stroke="#2e3328" stroke-width="0.35" textLength="63.8" lengthAdjust="spacingAndGlyphs">Шелеховский</text>
<text x="500.0" y="1140.0" font-size="11.5" font-weight="normal" fill="#2e3328" stroke="#2e3328" stroke-width="0.35" textLength="28.8" lengthAdjust="spacingAndGlyphs">район</text>
<text x="527.5" y="1097.0" font-size="14.0" font-weight="bold" fill="#d8261c" text-anchor="middle">+2</text>
<text x="468.8" y="1177.5" font-size="23.2" font-weight="bold" fill="#3c6595" stroke="#3c6595" stroke-width="0.5" textLength="37.5" lengthAdjust="spacingAndGlyphs">471</text>
<text x="500.0" y="1198.8" font-size="11.5" font-weight="normal" fill="#2e3328" stroke="#2e3328" stroke-width="0.35" textLength="58.8" lengthAdjust="spacingAndGlyphs">Слюдянский</text>
<text x="515.0" y="1212.5" font-size="11.5" font-weight="normal" fill="#2e3328" stroke="#2e3328" stroke-width="0.35" textLength="28.8" lengthAdjust="spacingAndGlyphs">район</text>
<text x="482.5" y="1150.0" font-size="14.0" font-weight="bold" fill="#d8261c" text-anchor="middle">+21</text>
<text x="575.0" y="1006.2" font-size="23.2" font-weight="bold" fill="#3c6595" stroke="#3c6595" stroke-width="0.5" textLength="40.0" lengthAdjust="spacingAndGlyphs">935</text>
<text x="553.8" y="1028.8" font-size="11.5" font-weight="normal" fill="#3a1a1a" stroke="#3a1a1a" stroke-width="0.35" textLength="96.2" lengthAdjust="spacingAndGlyphs">Эхирит-Булагатский</text>
<text x="588.8" y="1042.5" font-size="11.5" font-weight="normal" fill="#3a1a1a" stroke="#3a1a1a" stroke-width="0.35" textLength="28.8" lengthAdjust="spacingAndGlyphs">район</text>
<text x="605.0" y="968.8" font-size="14.0" font-weight="bold" fill="#ffffff" text-anchor="middle">+8</text>
<text x="643.8" y="968.8" font-size="23.2" font-weight="bold" fill="#3c6595" stroke="#3c6595" stroke-width="0.5" textLength="37.5" lengthAdjust="spacingAndGlyphs">171</text>
<text x="625.0" y="982.5" font-size="11.5" font-weight="normal" fill="#2e3328" stroke="#2e3328" stroke-width="0.35" textLength="65.0" lengthAdjust="spacingAndGlyphs">Баяндаевский</text>
<text x="643.8" y="996.2" font-size="11.5" font-weight="normal" fill="#2e3328" stroke="#2e3328" stroke-width="0.35" textLength="28.8" lengthAdjust="spacingAndGlyphs">район</text>
<text x="647.5" y="1013.8" font-size="14.0" font-weight="bold" fill="#d8261c" text-anchor="middle">+10</text>
<text x="563.8" y="1096.2" font-size="23.2" font-weight="bold" fill="#3c6595" stroke="#3c6595" stroke-width="0.5" textLength="60.0" lengthAdjust="spacingAndGlyphs">2 180</text>
<text x="570.0" y="1107.5" font-size="11.5" font-weight="normal" fill="#3a1a1a" stroke="#3a1a1a" stroke-width="0.35" textLength="50.0" lengthAdjust="spacingAndGlyphs">Иркутский</text>
<text x="580.0" y="1121.2" font-size="11.5" font-weight="normal" fill="#3a1a1a" stroke="#3a1a1a" stroke-width="0.35" textLength="30.0" lengthAdjust="spacingAndGlyphs">район</text>
<text x="642.5" y="1086.3" font-size="14.0" font-weight="bold" fill="#ffffff" text-anchor="middle">+27</text>
<text x="691.2" y="1003.8" font-size="25.0" font-weight="bold" fill="#3c6595" stroke="#3c6595" stroke-width="0.5" textLength="38.8" lengthAdjust="spacingAndGlyphs">112</text>
<text x="672.5" y="1021.2" font-size="11.5" font-weight="normal" fill="#2e3328" stroke="#2e3328" stroke-width="0.35" textLength="56.2" lengthAdjust="spacingAndGlyphs">Ольхонский</text>
<text x="686.2" y="1035.0" font-size="11.5" font-weight="normal" fill="#2e3328" stroke="#2e3328" stroke-width="0.35" textLength="28.8" lengthAdjust="spacingAndGlyphs">район</text>
</g>
<circle cx="489.5" cy="552" r="5" fill="#fff"/>
<circle cx="386.25" cy="650.8" r="5" fill="#fff"/>
<circle cx="359.25" cy="762.5" r="5" fill="#fff"/>
<circle cx="414.5" cy="821.25" r="7" fill="#b8fff0" opacity="0.9" filter="url(#glow)"/><circle cx="414.5" cy="821.25" r="5" fill="#fff"/>
<circle cx="391.75" cy="843.75" r="7" fill="#b8fff0" opacity="0.9" filter="url(#glow)"/><circle cx="391.75" cy="843.75" r="5" fill="#fff"/>
<circle cx="470" cy="977.5" r="7" fill="#b8fff0" opacity="0.9" filter="url(#glow)"/><circle cx="470" cy="977.5" r="5" fill="#fff"/>
<circle cx="438.25" cy="1002.5" r="7" fill="#b8fff0" opacity="0.9" filter="url(#glow)"/><circle cx="438.25" cy="1002.5" r="5" fill="#fff"/>
<circle cx="477" cy="1015.75" r="7" fill="#b8fff0" opacity="0.9" filter="url(#glow)"/><circle cx="477" cy="1015.75" r="5" fill="#fff"/>
<circle cx="508.75" cy="1068.75" r="7" fill="#b8fff0" opacity="0.9" filter="url(#glow)"/><circle cx="508.75" cy="1068.75" r="5" fill="#fff"/>
<circle cx="565" cy="1068.75" r="7" fill="#b8fff0" opacity="0.9" filter="url(#glow)"/><circle cx="565" cy="1068.75" r="5" fill="#fff"/>
<circle cx="77.7" cy="483.7" r="35" fill="#e30b17"/>
<circle cx="77.7" cy="606.4" r="35" fill="#e30b17"/>
<circle cx="77.8" cy="725.3" r="25.7" fill="#f29a1e"/>
<circle cx="77.7" cy="822.5" r="25.7" fill="#f29a1e"/>
<circle cx="77.7" cy="891" r="25.7" fill="#f29a1e"/>
<circle cx="77.6" cy="989.8" r="25.5" fill="#f29a1e"/>
<circle cx="77.6" cy="1061" r="25.5" fill="#f29a1e"/>
<circle cx="77.6" cy="1150.3" r="25.5" fill="#f29a1e"/>
<circle cx="77.6" cy="1229" r="34" fill="#e30b17"/>
<circle cx="908" cy="1064.8" r="39" fill="#e30b17"/>
<text x="49.9" y="492.7" font-size="22.7" font-weight="bold" fill="#fff" textLength="56.8" lengthAdjust="spacingAndGlyphs">1 637</text>
<text x="101.6" y="449" font-size="12.5" font-weight="bold" fill="#c8282e" textLength="22.4" lengthAdjust="spacingAndGlyphs">+28</text>
<text x="118.7" y="479.8" font-size="13" fill="#1e1e1e" stroke="#1e1e1e" stroke-width="0.25" textLength="82.6" lengthAdjust="spacingAndGlyphs">г. Усть-Илимск</text>
<text x="47.6" y="613.4" font-size="24.1" font-weight="bold" fill="#fff" textLength="58.6" lengthAdjust="spacingAndGlyphs">2 197</text>
<text x="102.3" y="570.4" font-size="12.5" font-weight="bold" fill="#c8282e" textLength="23.4" lengthAdjust="spacingAndGlyphs">+19</text>
<text x="123.8" y="601.7" font-size="13" fill="#1e1e1e" stroke="#1e1e1e" stroke-width="0.25" textLength="51.6" lengthAdjust="spacingAndGlyphs">г. Братск</text>
<text x="57.9" y="733.8" font-size="24.1" font-weight="bold" fill="#3d5a80" textLength="39.8" lengthAdjust="spacingAndGlyphs">292</text>
<text x="118.7" y="722.8" font-size="13" fill="#1e1e1e" stroke="#1e1e1e" stroke-width="0.25" textLength="45.8" lengthAdjust="spacingAndGlyphs">г. Тулун</text>
<text x="57.4" y="830.3" font-size="24.0" font-weight="bold" fill="#3d5a80" textLength="41.0" lengthAdjust="spacingAndGlyphs">206</text>
<text x="116.8" y="819.4" font-size="13" fill="#1e1e1e" stroke="#1e1e1e" stroke-width="0.25" textLength="53.1" lengthAdjust="spacingAndGlyphs">г. Саянск</text>
<text x="57.4" y="899" font-size="22.9" font-weight="bold" fill="#3d5a80" textLength="41.0" lengthAdjust="spacingAndGlyphs">108</text>
<text x="119.1" y="888.2" font-size="13" fill="#1e1e1e" stroke="#1e1e1e" stroke-width="0.25" textLength="41.8" lengthAdjust="spacingAndGlyphs">г. Зима</text>
<text x="56.9" y="997.8" font-size="24.3" font-weight="bold" fill="#3d5a80" textLength="40.3" lengthAdjust="spacingAndGlyphs">274</text>
<text x="97" y="965.5" font-size="12.5" font-weight="bold" fill="#c8282e" textLength="13.0" lengthAdjust="spacingAndGlyphs">+1</text>
<text x="116" y="987" font-size="13" fill="#1e1e1e" stroke="#1e1e1e" stroke-width="0.25" textLength="55.0" lengthAdjust="spacingAndGlyphs">г. Свирск</text>
<text x="56.9" y="1069" font-size="24.3" font-weight="bold" fill="#3d5a80" textLength="40.3" lengthAdjust="spacingAndGlyphs">555</text>
<text x="99" y="1038.5" font-size="12.5" font-weight="bold" fill="#c8282e" textLength="14.0" lengthAdjust="spacingAndGlyphs">+7</text>
<text x="115.5" y="1059" font-size="13" fill="#1e1e1e" stroke="#1e1e1e" stroke-width="0.25" textLength="79.1" lengthAdjust="spacingAndGlyphs">г. Черемхово</text>
<text x="56.9" y="1158.3" font-size="24.3" font-weight="bold" fill="#3d5a80" textLength="40.3" lengthAdjust="spacingAndGlyphs">632</text>
<text x="98.5" y="1123" font-size="12.5" font-weight="bold" fill="#c8282e" textLength="14.0" lengthAdjust="spacingAndGlyphs">+6</text>
<text x="113.9" y="1147" font-size="13" fill="#1e1e1e" stroke="#1e1e1e" stroke-width="0.25" textLength="123.2" lengthAdjust="spacingAndGlyphs">г. Усолье-Сибирское</text>
<text x="47.5" y="1237.2" font-size="25.0" font-weight="bold" fill="#fff" textLength="60.0" lengthAdjust="spacingAndGlyphs">3 350</text>
<text x="104.5" y="1194.5" font-size="12.5" font-weight="bold" fill="#c8282e" textLength="22.0" lengthAdjust="spacingAndGlyphs">+24</text>
<text x="122.8" y="1227.7" font-size="13" fill="#1e1e1e" stroke="#1e1e1e" stroke-width="0.25" textLength="59.2" lengthAdjust="spacingAndGlyphs">г. Ангарск</text>
<text x="871.7" y="1072.5" font-size="23.6" font-weight="bold" fill="#fff" textLength="72.5" lengthAdjust="spacingAndGlyphs">13 476</text>
<text x="845.8" y="1042.4" font-size="12.5" font-weight="bold" fill="#c8282e" textLength="22.0" lengthAdjust="spacingAndGlyphs">+62</text>
<text x="800" y="1063.75" font-size="13" fill="#1e1e1e" stroke="#1e1e1e" stroke-width="0.25" textLength="58.8" lengthAdjust="spacingAndGlyphs">г. Иркутск</text>
</svg></body></html>
